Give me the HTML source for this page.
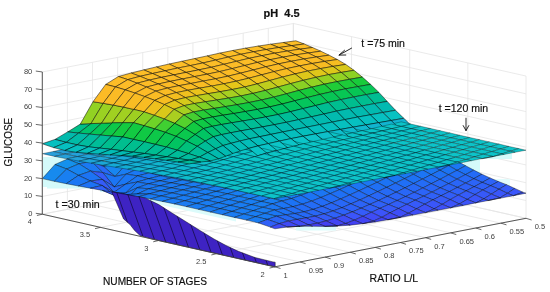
<!DOCTYPE html>
<html><head><meta charset="utf-8"><title>pH 4.5</title><style>html,body{margin:0;padding:0;background:#fff}svg{display:block}.a{stroke-width:.8;stroke-opacity:.62}.b{stroke-width:.7;stroke-opacity:.55}.c{stroke-width:.6;stroke-opacity:.5}</style></head><body>
<svg width="550" height="292" viewBox="0 0 550 292">
<rect width="550" height="292" fill="#fff"/>
<g><line x1="42.30" y1="214.20" x2="42.30" y2="71.96" stroke="#e4e4e4" stroke-width="0.80" /><line x1="42.30" y1="214.20" x2="274.90" y2="266.80" stroke="#e4e4e4" stroke-width="0.80" /><line x1="67.41" y1="209.35" x2="67.41" y2="67.11" stroke="#e4e4e4" stroke-width="0.80" /><line x1="67.41" y1="209.35" x2="300.01" y2="261.95" stroke="#e4e4e4" stroke-width="0.80" /><line x1="92.52" y1="204.50" x2="92.52" y2="62.26" stroke="#e4e4e4" stroke-width="0.80" /><line x1="92.52" y1="204.50" x2="325.12" y2="257.10" stroke="#e4e4e4" stroke-width="0.80" /><line x1="117.63" y1="199.65" x2="117.63" y2="57.41" stroke="#e4e4e4" stroke-width="0.80" /><line x1="117.63" y1="199.65" x2="350.23" y2="252.25" stroke="#e4e4e4" stroke-width="0.80" /><line x1="142.74" y1="194.80" x2="142.74" y2="52.56" stroke="#e4e4e4" stroke-width="0.80" /><line x1="142.74" y1="194.80" x2="375.34" y2="247.40" stroke="#e4e4e4" stroke-width="0.80" /><line x1="167.85" y1="189.95" x2="167.85" y2="47.71" stroke="#e4e4e4" stroke-width="0.80" /><line x1="167.85" y1="189.95" x2="400.45" y2="242.55" stroke="#e4e4e4" stroke-width="0.80" /><line x1="192.96" y1="185.10" x2="192.96" y2="42.86" stroke="#e4e4e4" stroke-width="0.80" /><line x1="192.96" y1="185.10" x2="425.56" y2="237.70" stroke="#e4e4e4" stroke-width="0.80" /><line x1="218.07" y1="180.25" x2="218.07" y2="38.01" stroke="#e4e4e4" stroke-width="0.80" /><line x1="218.07" y1="180.25" x2="450.67" y2="232.85" stroke="#e4e4e4" stroke-width="0.80" /><line x1="243.18" y1="175.40" x2="243.18" y2="33.16" stroke="#e4e4e4" stroke-width="0.80" /><line x1="243.18" y1="175.40" x2="475.78" y2="228.00" stroke="#e4e4e4" stroke-width="0.80" /><line x1="268.29" y1="170.55" x2="268.29" y2="28.31" stroke="#e4e4e4" stroke-width="0.80" /><line x1="268.29" y1="170.55" x2="500.89" y2="223.15" stroke="#e4e4e4" stroke-width="0.80" /><line x1="293.40" y1="165.70" x2="293.40" y2="23.46" stroke="#e4e4e4" stroke-width="0.80" /><line x1="293.40" y1="165.70" x2="526.00" y2="218.30" stroke="#e4e4e4" stroke-width="0.80" /><line x1="293.40" y1="165.70" x2="293.40" y2="23.46" stroke="#e4e4e4" stroke-width="0.80" /><line x1="42.30" y1="214.20" x2="293.40" y2="165.70" stroke="#e4e4e4" stroke-width="0.80" /><line x1="351.55" y1="178.85" x2="351.55" y2="36.61" stroke="#e4e4e4" stroke-width="0.80" /><line x1="100.45" y1="227.35" x2="351.55" y2="178.85" stroke="#e4e4e4" stroke-width="0.80" /><line x1="409.70" y1="192.00" x2="409.70" y2="49.76" stroke="#e4e4e4" stroke-width="0.80" /><line x1="158.60" y1="240.50" x2="409.70" y2="192.00" stroke="#e4e4e4" stroke-width="0.80" /><line x1="467.85" y1="205.15" x2="467.85" y2="62.91" stroke="#e4e4e4" stroke-width="0.80" /><line x1="216.75" y1="253.65" x2="467.85" y2="205.15" stroke="#e4e4e4" stroke-width="0.80" /><line x1="526.00" y1="218.30" x2="526.00" y2="76.06" stroke="#e4e4e4" stroke-width="0.80" /><line x1="274.90" y1="266.80" x2="526.00" y2="218.30" stroke="#e4e4e4" stroke-width="0.80" /><line x1="42.30" y1="214.20" x2="293.40" y2="165.70" stroke="#e4e4e4" stroke-width="0.80" /><line x1="293.40" y1="165.70" x2="526.00" y2="218.30" stroke="#e4e4e4" stroke-width="0.80" /><line x1="42.30" y1="196.42" x2="293.40" y2="147.92" stroke="#e4e4e4" stroke-width="0.80" /><line x1="293.40" y1="147.92" x2="526.00" y2="200.52" stroke="#e4e4e4" stroke-width="0.80" /><line x1="42.30" y1="178.64" x2="293.40" y2="130.14" stroke="#e4e4e4" stroke-width="0.80" /><line x1="293.40" y1="130.14" x2="526.00" y2="182.74" stroke="#e4e4e4" stroke-width="0.80" /><line x1="42.30" y1="160.86" x2="293.40" y2="112.36" stroke="#e4e4e4" stroke-width="0.80" /><line x1="293.40" y1="112.36" x2="526.00" y2="164.96" stroke="#e4e4e4" stroke-width="0.80" /><line x1="42.30" y1="143.08" x2="293.40" y2="94.58" stroke="#e4e4e4" stroke-width="0.80" /><line x1="293.40" y1="94.58" x2="526.00" y2="147.18" stroke="#e4e4e4" stroke-width="0.80" /><line x1="42.30" y1="125.30" x2="293.40" y2="76.80" stroke="#e4e4e4" stroke-width="0.80" /><line x1="293.40" y1="76.80" x2="526.00" y2="129.40" stroke="#e4e4e4" stroke-width="0.80" /><line x1="42.30" y1="107.52" x2="293.40" y2="59.02" stroke="#e4e4e4" stroke-width="0.80" /><line x1="293.40" y1="59.02" x2="526.00" y2="111.62" stroke="#e4e4e4" stroke-width="0.80" /><line x1="42.30" y1="89.74" x2="293.40" y2="41.24" stroke="#e4e4e4" stroke-width="0.80" /><line x1="293.40" y1="41.24" x2="526.00" y2="93.84" stroke="#e4e4e4" stroke-width="0.80" /><line x1="42.30" y1="71.96" x2="293.40" y2="23.46" stroke="#e4e4e4" stroke-width="0.80" /><line x1="293.40" y1="23.46" x2="526.00" y2="76.06" stroke="#e4e4e4" stroke-width="0.80" /></g>
<g fill="#d4fafa"><rect x="43" y="157" width="22" height="30"/><rect x="47" y="176" width="56" height="12.5"/><rect x="100" y="186" width="12" height="6"/><polygon points="140,196 236,218 236,221.6 140,200.2" fill="#dcfbfb"/><rect x="464" y="160" width="16" height="19"/><rect x="478" y="152" width="34" height="7"/><rect x="296" y="222" width="40" height="8.5" fill="#dcfbfb"/><rect x="480" y="179" width="30" height="8" fill="#e2fbfb"/></g>
<g stroke="#000" stroke-opacity="0.55" stroke-width="0.7" stroke-linejoin="round">
<polygon class="b" points="280.8,113.3 289.2,116.4 301.6,113.6 293.4,110.6" fill="#2396e5"/>
<polygon class="b" points="289.2,116.4 297.6,121.2 309.8,118.3 301.6,113.6" fill="#1996e9"/>
<polygon class="b" points="268.3,116.0 276.9,119.1 289.2,116.4 280.8,113.3" fill="#2296e5"/>
<polygon class="b" points="297.6,121.2 306.0,126.5 318.0,123.4 309.8,118.3" fill="#1590ed"/>
<polygon class="c" points="282.5,99.7 292.4,101.9 303.2,99.8 293.4,97.6" fill="#0dc3c9"/>
<polygon class="b" points="306.0,126.5 314.4,131.1 326.2,128.0 318.0,123.4" fill="#1789ef"/>
<polygon class="b" points="276.9,119.1 285.5,124.1 297.6,121.2 289.2,116.4" fill="#1796ea"/>
<polygon class="b" points="255.7,118.7 264.5,121.9 276.9,119.1 268.3,116.0" fill="#2196e6"/>
<polygon class="b" points="285.5,124.1 294.0,129.5 306.0,126.5 297.6,121.2" fill="#168fed"/>
<polygon class="b" points="314.4,131.1 322.8,134.5 334.4,131.5 326.2,128.0" fill="#1884f0"/>
<polygon class="c" points="271.6,101.8 281.6,104.1 292.4,101.9 282.5,99.7" fill="#0dc3c9"/>
<polygon class="c" points="292.4,101.9 302.3,104.2 313.0,102.0 303.2,99.8" fill="#0dc3c9"/>
<polygon class="b" points="294.0,129.5 302.6,134.1 314.4,131.1 306.0,126.5" fill="#1788ef"/>
<polygon class="b" points="264.5,121.9 273.3,127.1 285.5,124.1 276.9,119.1" fill="#1696ea"/>
<polygon class="b" points="322.8,134.5 331.2,137.0 342.6,134.0 334.4,131.5" fill="#1882f1"/>
<polygon class="b" points="243.2,121.3 252.1,124.7 264.5,121.9 255.7,118.7" fill="#2096e6"/>
<polygon class="b" points="273.3,127.1 282.0,132.5 294.0,129.5 285.5,124.1" fill="#168eed"/>
<polygon class="b" points="302.6,134.1 311.2,137.5 322.8,134.5 314.4,131.1" fill="#1883f0"/>
<polygon class="c" points="260.6,103.9 270.8,106.2 281.6,104.1 271.6,101.8" fill="#0dc3c9"/>
<polygon class="c" points="281.6,104.1 291.6,106.3 302.3,104.2 292.4,101.9" fill="#0dc3c9"/>
<polygon class="c" points="302.3,104.2 312.2,106.4 322.8,104.2 313.0,102.0" fill="#0dc3c9"/>
<polygon class="b" points="331.2,137.0 339.6,138.8 350.8,135.9 342.6,134.0" fill="#1882f1"/>
<polygon class="b" points="282.0,132.5 290.8,137.2 302.6,134.1 294.0,129.5" fill="#1886ef"/>
<polygon class="b" points="252.1,124.7 261.1,130.0 273.3,127.1 264.5,121.9" fill="#1496eb"/>
<polygon class="b" points="311.2,137.5 319.8,139.9 331.2,137.0 322.8,134.5" fill="#1982f1"/>
<polygon class="b" points="230.6,124.0 239.8,127.5 252.1,124.7 243.2,121.3" fill="#1f96e7"/>
<polygon class="b" points="261.1,130.0 270.1,135.6 282.0,132.5 273.3,127.1" fill="#168cee"/>
<polygon class="c" points="249.7,106.1 259.9,108.4 270.8,106.2 260.6,103.9" fill="#0dc3c9"/>
<polygon class="b" points="290.8,137.2 299.6,140.5 311.2,137.5 302.6,134.1" fill="#1982f1"/>
<polygon class="c" points="270.8,106.2 280.9,108.5 291.6,106.3 281.6,104.1" fill="#0dc3c9"/>
<polygon class="c" points="291.6,106.3 301.6,108.6 312.2,106.4 302.3,104.2" fill="#0dc3c9"/>
<polygon class="c" points="312.2,106.4 322.1,108.6 332.6,106.4 322.8,104.2" fill="#0dc3c9"/>
<polygon class="b" points="339.6,138.8 348.0,140.5 359.0,137.5 350.8,135.9" fill="#1883f0"/>
<polygon class="b" points="319.8,139.9 328.4,141.8 339.6,138.8 331.2,137.0" fill="#1982f1"/>
<polygon class="b" points="270.1,135.6 279.0,140.2 290.8,137.2 282.0,132.5" fill="#1885f0"/>
<polygon class="b" points="239.8,127.5 248.9,132.9 261.1,130.0 252.1,124.7" fill="#1495eb"/>
<polygon class="b" points="299.6,140.5 308.4,142.9 319.8,139.9 311.2,137.5" fill="#1981f1"/>
<polygon class="b" points="218.1,126.7 227.4,130.3 239.8,127.5 230.6,124.0" fill="#1d96e7"/>
<polygon class="c" points="238.8,108.2 249.1,110.5 259.9,108.4 249.7,106.1" fill="#0dc3c9"/>
<polygon class="b" points="348.0,140.5 356.4,142.0 367.2,139.0 359.0,137.5" fill="#1884f0"/>
<polygon class="b" points="248.9,132.9 258.1,138.6 270.1,135.6 261.1,130.0" fill="#168bee"/>
<polygon class="c" points="259.9,108.4 270.2,110.6 280.9,108.5 270.8,106.2" fill="#0dc3c9"/>
<polygon class="c" points="280.9,108.5 291.0,110.7 301.6,108.6 291.6,106.3" fill="#0dc3c9"/>
<polygon class="c" points="301.6,108.6 311.6,110.8 322.1,108.6 312.2,106.4" fill="#0dc3c9"/>
<polygon class="c" points="322.1,108.6 332.0,110.8 342.4,108.6 332.6,106.4" fill="#0dc3c9"/>
<polygon class="b" points="279.0,140.2 288.0,143.5 299.6,140.5 290.8,137.2" fill="#1981f1"/>
<polygon class="b" points="328.4,141.8 336.9,143.4 348.0,140.5 339.6,138.8" fill="#1883f1"/>
<polygon class="b" points="227.4,130.3 236.8,135.9 248.9,132.9 239.8,127.5" fill="#1494ec"/>
<polygon class="b" points="258.1,138.6 267.2,143.2 279.0,140.2 270.1,135.6" fill="#1884f0"/>
<polygon class="b" points="308.4,142.9 317.1,144.8 328.4,141.8 319.8,139.9" fill="#1981f1"/>
<polygon class="b" points="356.4,142.0 364.7,143.5 375.4,140.4 367.2,139.0" fill="#1885f0"/>
<polygon class="c" points="227.9,110.3 238.3,112.7 249.1,110.5 238.8,108.2" fill="#0dc3c9"/>
<polygon class="b" points="288.0,143.5 296.9,145.9 308.4,142.9 299.6,140.5" fill="#1980f1"/>
<polygon class="b" points="205.5,129.4 215.0,133.1 227.4,130.3 218.1,126.7" fill="#1c96e8"/>
<polygon class="c" points="249.1,110.5 259.5,112.8 270.2,110.6 259.9,108.4" fill="#0dc3c9"/>
<polygon class="c" points="270.2,110.6 280.4,112.9 291.0,110.7 280.9,108.5" fill="#0dc3c9"/>
<polygon class="c" points="291.0,110.7 301.1,113.0 311.6,110.8 301.6,108.6" fill="#0cc3c9"/>
<polygon class="b" points="236.8,135.9 246.1,141.6 258.1,138.6 248.9,132.9" fill="#178aee"/>
<polygon class="c" points="311.6,110.8 321.6,113.0 332.0,110.8 322.1,108.6" fill="#0cc3c9"/>
<polygon class="c" points="332.0,110.8 341.9,113.0 352.2,110.8 342.4,108.6" fill="#0cc3c9"/>
<polygon class="b" points="336.9,143.4 345.5,145.0 356.4,142.0 348.0,140.5" fill="#1884f0"/>
<polygon class="b" points="267.2,143.2 276.4,146.5 288.0,143.5 279.0,140.2" fill="#1980f1"/>
<polygon class="b" points="317.1,144.8 325.9,146.4 336.9,143.4 328.4,141.8" fill="#1982f1"/>
<polygon class="b" points="215.0,133.1 224.6,138.8 236.8,135.9 227.4,130.3" fill="#1593ec"/>
<polygon class="b" points="246.1,141.6 255.4,146.2 267.2,143.2 258.1,138.6" fill="#1883f1"/>
<polygon class="b" points="364.7,143.5 373.1,145.0 383.6,141.9 375.4,140.4" fill="#1886ef"/>
<polygon class="b" points="296.9,145.9 305.9,147.7 317.1,144.8 308.4,142.9" fill="#1980f1"/>
<polygon class="c" points="217.0,112.5 227.5,114.8 238.3,112.7 227.9,110.3" fill="#0dc3c9"/>
<polygon class="c" points="238.3,112.7 248.7,115.0 259.5,112.8 249.1,110.5" fill="#0dc3c9"/>
<polygon class="c" points="259.5,112.8 269.8,115.1 280.4,112.9 270.2,110.6" fill="#0dc3c9"/>
<polygon class="b" points="193.0,132.1 202.7,135.9 215.0,133.1 205.5,129.4" fill="#1b96e8"/>
<polygon class="c" points="280.4,112.9 290.6,115.1 301.1,113.0 291.0,110.7" fill="#0cc4c9"/>
<polygon class="b" points="276.4,146.5 285.5,148.8 296.9,145.9 288.0,143.5" fill="#197ff1"/>
<polygon class="c" points="301.1,113.0 311.2,115.2 321.6,113.0 311.6,110.8" fill="#0cc4c9"/>
<polygon class="c" points="341.9,113.0 351.8,115.2 362.0,113.0 352.2,110.8" fill="#0cc4c9"/>
<polygon class="c" points="321.6,113.0 331.6,115.2 341.9,113.0 332.0,110.8" fill="#0cc4c9"/>
<polygon class="b" points="345.5,145.0 354.1,146.5 364.7,143.5 356.4,142.0" fill="#1885f0"/>
<polygon class="b" points="224.6,138.8 234.1,144.6 246.1,141.6 236.8,135.9" fill="#1788ef"/>
<polygon class="a" points="283.2,42.5 291.5,45.7 304.2,44.0 295.9,40.8" fill="#fdbe27"/>
<polygon class="b" points="255.4,146.2 264.8,149.4 276.4,146.5 267.2,143.2" fill="#197ff2"/>
<polygon class="b" points="325.9,146.4 334.7,148.0 345.5,145.0 336.9,143.4" fill="#1883f0"/>
<polygon class="b" points="373.1,145.0 381.5,146.5 391.8,143.4 383.6,141.9" fill="#1787ef"/>
<polygon class="b" points="202.7,135.9 212.4,141.7 224.6,138.8 215.0,133.1" fill="#1592ec"/>
<polygon class="b" points="305.9,147.7 314.9,149.4 325.9,146.4 317.1,144.8" fill="#1981f1"/>
<polygon class="c" points="206.1,114.7 216.7,117.0 227.5,114.8 217.0,112.5" fill="#0dc2c9"/>
<polygon class="b" points="234.1,144.6 243.6,149.2 255.4,146.2 246.1,141.6" fill="#1981f1"/>
<polygon class="c" points="227.5,114.8 238.0,117.2 248.7,115.0 238.3,112.7" fill="#0dc3c9"/>
<polygon class="a" points="291.5,45.7 299.8,49.2 312.5,47.5 304.2,44.0" fill="#fcbd27"/>
<polygon class="c" points="248.7,115.0 259.2,117.2 269.8,115.1 259.5,112.8" fill="#0cc4c9"/>
<polygon class="b" points="285.5,148.8 294.7,150.6 305.9,147.7 296.9,145.9" fill="#1980f1"/>
<polygon class="b" points="354.1,146.5 362.7,148.0 373.1,145.0 364.7,143.5" fill="#1886f0"/>
<polygon class="c" points="269.8,115.1 280.1,117.3 290.6,115.1 280.4,112.9" fill="#0cc4c9"/>
<polygon class="b" points="180.4,134.8 190.3,138.7 202.7,135.9 193.0,132.1" fill="#1a96e9"/>
<polygon class="c" points="290.6,115.1 300.8,117.3 311.2,115.2 301.1,113.0" fill="#0cc4c8"/>
<polygon class="c" points="351.8,115.2 361.7,117.4 371.8,115.2 362.0,113.0" fill="#0cc4c9"/>
<polygon class="c" points="311.2,115.2 321.3,117.4 331.6,115.2 321.6,113.0" fill="#0cc4c8"/>
<polygon class="c" points="331.6,115.2 341.6,117.4 351.8,115.2 341.9,113.0" fill="#0cc4c8"/>
<polygon class="b" points="264.8,149.4 274.1,151.7 285.5,148.8 276.4,146.5" fill="#197ff2"/>
<polygon class="b" points="212.4,141.7 222.1,147.6 234.1,144.6 224.6,138.8" fill="#1787ef"/>
<polygon class="b" points="334.7,148.0 343.4,149.5 354.1,146.5 345.5,145.0" fill="#1884f0"/>
<polygon class="a" points="270.5,44.2 278.9,47.5 291.5,45.7 283.2,42.5" fill="#fdbe27"/>
<polygon class="b" points="381.5,146.5 389.9,148.1 400.0,144.9 391.8,143.4" fill="#1788ef"/>
<polygon class="b" points="243.6,149.2 253.2,152.4 264.8,149.4 255.4,146.2" fill="#197ef2"/>
<polygon class="a" points="299.8,49.2 308.1,53.0 320.8,51.2 312.5,47.5" fill="#fcbc26"/>
<polygon class="b" points="314.9,149.4 323.8,151.0 334.7,148.0 325.9,146.4" fill="#1883f1"/>
<polygon class="c" points="195.1,116.9 205.9,119.3 216.7,117.0 206.1,114.7" fill="#0dc2c9"/>
<polygon class="b" points="190.3,138.7 200.2,144.7 212.4,141.7 202.7,135.9" fill="#1590ed"/>
<polygon class="c" points="216.7,117.0 227.3,119.4 238.0,117.2 227.5,114.8" fill="#0dc3c9"/>
<polygon class="b" points="222.1,147.6 231.8,152.2 243.6,149.2 234.1,144.6" fill="#1980f1"/>
<polygon class="b" points="362.7,148.0 371.2,149.6 381.5,146.5 373.1,145.0" fill="#1787ef"/>
<polygon class="b" points="294.7,150.6 303.8,152.3 314.9,149.4 305.9,147.7" fill="#1981f1"/>
<polygon class="c" points="238.0,117.2 248.6,119.4 259.2,117.2 248.7,115.0" fill="#0cc4c9"/>
<polygon class="c" points="259.2,117.2 269.6,119.4 280.1,117.3 269.8,115.1" fill="#0cc4c8"/>
<polygon class="a" points="278.9,47.5 287.2,51.1 299.8,49.2 291.5,45.7" fill="#fcbd27"/>
<polygon class="c" points="361.7,117.4 371.6,119.6 381.6,117.4 371.8,115.2" fill="#0cc4c9"/>
<polygon class="c" points="280.1,117.3 290.4,119.4 300.8,117.3 290.6,115.1" fill="#0cc5c8"/>
<polygon class="c" points="341.6,117.4 351.6,119.6 361.7,117.4 351.8,115.2" fill="#0cc4c8"/>
<polygon class="b" points="167.9,137.5 178.0,141.5 190.3,138.7 180.4,134.8" fill="#1996e9"/>
<polygon class="c" points="300.8,117.3 311.0,119.5 321.3,117.4 311.2,115.2" fill="#0cc5c8"/>
<polygon class="c" points="321.3,117.4 331.4,119.5 341.6,117.4 331.6,115.2" fill="#0cc5c8"/>
<polygon class="a" points="308.1,53.0 316.4,57.0 329.1,55.2 320.8,51.2" fill="#fcbb26"/>
<polygon class="b" points="274.1,151.7 283.5,153.6 294.7,150.6 285.5,148.8" fill="#197ff2"/>
<polygon class="b" points="343.4,149.5 352.2,151.1 362.7,148.0 354.1,146.5" fill="#1885f0"/>
<polygon class="b" points="200.2,144.7 210.1,150.6 222.1,147.6 212.4,141.7" fill="#1886f0"/>
<polygon class="b" points="389.9,148.1 398.3,149.7 408.2,146.5 400.0,144.9" fill="#1789ef"/>
<polygon class="b" points="253.2,152.4 262.7,154.7 274.1,151.7 264.8,149.4" fill="#1a7ef2"/>
<polygon class="a" points="257.9,46.1 266.2,49.5 278.9,47.5 270.5,44.2" fill="#fdbe27"/>
<polygon class="b" points="323.8,151.0 332.8,152.6 343.4,149.5 334.7,148.0" fill="#1884f0"/>
<polygon class="c" points="184.2,119.2 195.1,121.6 205.9,119.3 195.1,116.9" fill="#0dc1ca"/>
<polygon class="b" points="231.8,152.2 241.6,155.4 253.2,152.4 243.6,149.2" fill="#1a7df2"/>
<polygon class="a" points="287.2,51.1 295.5,54.9 308.1,53.0 299.8,49.2" fill="#fcbc27"/>
<polygon class="a" points="316.4,57.0 324.7,61.4 337.4,59.5 329.1,55.2" fill="#fabb24"/>
<polygon class="c" points="205.9,119.3 216.6,121.6 227.3,119.4 216.7,117.0" fill="#0dc2c9"/>
<polygon class="b" points="371.2,149.6 379.8,151.3 389.9,148.1 381.5,146.5" fill="#1788ef"/>
<polygon class="b" points="178.0,141.5 188.1,147.6 200.2,144.7 190.3,138.7" fill="#168fed"/>
<polygon class="b" points="303.8,152.3 313.0,154.0 323.8,151.0 314.9,149.4" fill="#1982f1"/>
<polygon class="c" points="227.3,119.4 238.0,121.6 248.6,119.4 238.0,117.2" fill="#0cc4c9"/>
<polygon class="b" points="210.1,150.6 220.0,155.2 231.8,152.2 222.1,147.6" fill="#197ff2"/>
<polygon class="c" points="248.6,119.4 259.1,121.6 269.6,119.4 259.2,117.2" fill="#0cc4c8"/>
<polygon class="c" points="371.6,119.6 381.5,121.8 391.4,119.6 381.6,117.4" fill="#0cc4c9"/>
<polygon class="c" points="269.6,119.4 280.0,121.6 290.4,119.4 280.1,117.3" fill="#0cc5c8"/>
<polygon class="c" points="351.6,119.6 361.6,121.8 371.6,119.6 361.7,117.4" fill="#0cc4c8"/>
<polygon class="b" points="283.5,153.6 292.8,155.3 303.8,152.3 294.7,150.6" fill="#1980f1"/>
<polygon class="c" points="290.4,119.4 300.7,121.6 311.0,119.5 300.8,117.3" fill="#0cc5c8"/>
<polygon class="c" points="331.4,119.5 341.6,121.7 351.6,119.6 341.6,117.4" fill="#0cc5c8"/>
<polygon class="c" points="311.0,119.5 321.3,121.6 331.4,119.5 321.3,117.4" fill="#0cc5c8"/>
<polygon class="b" points="155.3,140.2 165.6,144.3 178.0,141.5 167.9,137.5" fill="#1896ea"/>
<polygon class="b" points="352.2,151.1 361.0,152.8 371.2,149.6 362.7,148.0" fill="#1886ef"/>
<polygon class="b" points="398.3,149.7 406.7,151.5 416.4,148.2 408.2,146.5" fill="#1789ef"/>
<polygon class="a" points="266.2,49.5 274.5,53.2 287.2,51.1 278.9,47.5" fill="#fdbe27"/>
<polygon class="a" points="324.7,61.4 333.0,66.4 345.7,64.4 337.4,59.5" fill="#f6bd21"/>
<polygon class="a" points="295.5,54.9 303.8,59.0 316.4,57.0 308.1,53.0" fill="#fcbb26"/>
<polygon class="b" points="262.7,154.7 272.2,156.5 283.5,153.6 274.1,151.7" fill="#197ff2"/>
<polygon class="b" points="188.1,147.6 198.2,153.6 210.1,150.6 200.2,144.7" fill="#1885f0"/>
<polygon class="b" points="332.8,152.6 341.7,154.2 352.2,151.1 343.4,149.5" fill="#1885f0"/>
<polygon class="c" points="173.3,121.6 184.3,124.0 195.1,121.6 184.2,119.2" fill="#0ec0ca"/>
<polygon class="b" points="241.6,155.4 251.3,157.6 262.7,154.7 253.2,152.4" fill="#1a7df2"/>
<polygon class="b" points="379.8,151.3 388.4,153.0 398.3,149.7 389.9,148.1" fill="#1788ef"/>
<polygon class="a" points="333.0,66.4 341.3,72.4 354.0,70.3 345.7,64.4" fill="#d8c81a"/>
<polygon class="c" points="195.1,121.6 205.9,124.0 216.6,121.6 205.9,119.3" fill="#0dc2c9"/>
<polygon class="a" points="245.2,48.2 253.5,51.8 266.2,49.5 257.9,46.1" fill="#fdbf27"/>
<polygon class="b" points="220.0,155.2 230.0,158.3 241.6,155.4 231.8,152.2" fill="#1a7df2"/>
<polygon class="b" points="313.0,154.0 322.1,155.6 332.8,152.6 323.8,151.0" fill="#1883f0"/>
<polygon class="a" points="274.5,53.2 282.8,57.2 295.5,54.9 287.2,51.1" fill="#fcbd27"/>
<polygon class="c" points="216.6,121.6 227.4,123.9 238.0,121.6 227.3,119.4" fill="#0dc3c9"/>
<polygon class="a" points="303.8,59.0 312.1,63.5 324.7,61.4 316.4,57.0" fill="#fbbb25"/>
<polygon class="b" points="165.6,144.3 175.9,150.5 188.1,147.6 178.0,141.5" fill="#168eed"/>
<polygon class="c" points="238.0,121.6 248.6,123.8 259.1,121.6 248.6,119.4" fill="#0cc5c8"/>
<polygon class="a" points="341.3,72.4 349.6,79.3 362.3,77.1 354.0,70.3" fill="#8dd223"/>
<polygon class="c" points="381.5,121.8 391.4,124.1 401.2,121.8 391.4,119.6" fill="#0cc4c9"/>
<polygon class="b" points="198.2,153.6 208.2,158.2 220.0,155.2 210.1,150.6" fill="#197ef2"/>
<polygon class="b" points="406.7,151.5 415.1,153.3 424.6,149.9 416.4,148.2" fill="#178aee"/>
<polygon class="c" points="259.1,121.6 269.6,123.7 280.0,121.6 269.6,119.4" fill="#0cc5c8"/>
<polygon class="b" points="361.0,152.8 369.7,154.4 379.8,151.3 371.2,149.6" fill="#1787ef"/>
<polygon class="b" points="292.8,155.3 302.1,157.0 313.0,154.0 303.8,152.3" fill="#1981f1"/>
<polygon class="c" points="361.6,121.8 371.7,124.1 381.5,121.8 371.6,119.6" fill="#0cc4c8"/>
<polygon class="c" points="280.0,121.6 290.5,123.7 300.7,121.6 290.4,119.4" fill="#0cc5c8"/>
<polygon class="c" points="341.6,121.7 351.7,123.9 361.6,121.8 351.6,119.6" fill="#0cc5c8"/>
<polygon class="c" points="300.7,121.6 311.1,123.7 321.3,121.6 311.0,119.5" fill="#0cc5c7"/>
<polygon class="c" points="321.3,121.6 331.5,123.8 341.6,121.7 331.4,119.5" fill="#0cc5c8"/>
<polygon class="b" points="142.7,142.9 153.2,147.0 165.6,144.3 155.3,140.2" fill="#1696ea"/>
<polygon class="a" points="349.6,79.3 357.9,86.6 370.6,84.4 362.3,77.1" fill="#18cb3a"/>
<polygon class="b" points="272.2,156.5 281.8,158.2 292.8,155.3 283.5,153.6" fill="#1980f1"/>
<polygon class="a" points="253.5,51.8 261.8,55.7 274.5,53.2 266.2,49.5" fill="#fdbe27"/>
<polygon class="a" points="312.1,63.5 320.4,68.6 333.0,66.4 324.7,61.4" fill="#f8bc22"/>
<polygon class="a" points="357.9,86.6 366.2,94.6 378.9,92.4 370.6,84.4" fill="#06c657"/>
<polygon class="a" points="282.8,57.2 291.1,61.3 303.8,59.0 295.5,54.9" fill="#fcbc26"/>
<polygon class="c" points="162.4,124.1 173.4,126.5 184.3,124.0 173.3,121.6" fill="#0ebfcb"/>
<polygon class="b" points="341.7,154.2 350.7,155.9 361.0,152.8 352.2,151.1" fill="#1886f0"/>
<polygon class="b" points="175.9,150.5 186.2,156.6 198.2,153.6 188.1,147.6" fill="#1883f0"/>
<polygon class="a" points="366.2,94.6 374.5,103.6 387.2,101.4 378.9,92.4" fill="#00bd93"/>
<polygon class="b" points="251.3,157.6 261.0,159.5 272.2,156.5 262.7,154.7" fill="#197ef2"/>
<polygon class="b" points="388.4,153.0 397.0,154.8 406.7,151.5 398.3,149.7" fill="#1789ef"/>
<polygon class="a" points="374.5,103.6 382.8,112.5 395.5,110.3 387.2,101.4" fill="#02bab1"/>
<polygon class="c" points="184.3,124.0 195.2,126.4 205.9,124.0 195.1,121.6" fill="#0dc1ca"/>
<polygon class="a" points="382.8,112.5 391.1,120.5 403.8,118.3 395.5,110.3" fill="#07c1c1"/>
<polygon class="b" points="230.0,158.3 239.9,160.5 251.3,157.6 241.6,155.4" fill="#1a7cf2"/>
<polygon class="a" points="391.1,120.5 399.4,128.6 412.1,126.3 403.8,118.3" fill="#12b3d1"/>
<polygon class="b" points="322.1,155.6 331.3,157.3 341.7,154.2 332.8,152.6" fill="#1884f0"/>
<polygon class="c" points="205.9,124.0 216.8,126.2 227.4,123.9 216.6,121.6" fill="#0dc3c9"/>
<polygon class="a" points="320.4,68.6 328.7,74.6 341.3,72.4 333.0,66.4" fill="#ddc71a"/>
<polygon class="a" points="232.5,50.5 240.8,54.3 253.5,51.8 245.2,48.2" fill="#fdbf27"/>
<polygon class="b" points="208.2,158.2 218.3,161.2 230.0,158.3 220.0,155.2" fill="#1a7cf3"/>
<polygon class="b" points="415.1,153.3 423.5,155.1 432.8,151.7 424.6,149.9" fill="#178aee"/>
<polygon class="a" points="399.4,128.6 407.7,136.6 420.4,134.3 412.1,126.3" fill="#3298dd"/>
<polygon class="a" points="261.8,55.7 270.1,59.7 282.8,57.2 274.5,53.2" fill="#fcbd27"/>
<polygon class="c" points="227.4,123.9 238.1,126.0 248.6,123.8 238.0,121.6" fill="#0cc5c8"/>
<polygon class="b" points="153.2,147.0 163.7,153.5 175.9,150.5 165.6,144.3" fill="#168dee"/>
<polygon class="a" points="291.1,61.3 299.4,65.9 312.1,63.5 303.8,59.0" fill="#fbbb25"/>
<polygon class="b" points="369.7,154.4 378.5,156.2 388.4,153.0 379.8,151.3" fill="#1788ef"/>
<polygon class="c" points="391.4,124.1 401.3,126.4 411.0,124.1 401.2,121.8" fill="#0cc4c9"/>
<polygon class="c" points="248.6,123.8 259.2,125.9 269.6,123.7 259.1,121.6" fill="#0cc5c8"/>
<polygon class="b" points="302.1,157.0 311.5,158.6 322.1,155.6 313.0,154.0" fill="#1883f1"/>
<polygon class="a" points="328.7,74.6 337.0,81.6 349.6,79.3 341.3,72.4" fill="#93d223"/>
<polygon class="c" points="371.7,124.1 381.7,126.3 391.4,124.1 381.5,121.8" fill="#0cc4c8"/>
<polygon class="c" points="269.6,123.7 280.2,125.7 290.5,123.7 280.0,121.6" fill="#0bc4c7"/>
<polygon class="b" points="186.2,156.6 196.5,161.1 208.2,158.2 198.2,153.6" fill="#1a7df2"/>
<polygon class="c" points="351.7,123.9 361.8,126.2 371.7,124.1 361.6,121.8" fill="#0cc5c8"/>
<polygon class="c" points="290.5,123.7 300.9,125.7 311.1,123.7 300.7,121.6" fill="#0bc4c7"/>
<polygon class="c" points="331.5,123.8 341.7,126.0 351.7,123.9 341.6,121.7" fill="#0cc5c8"/>
<polygon class="c" points="311.1,123.7 321.4,125.9 331.5,123.8 321.3,121.6" fill="#0bc4c7"/>
<polygon class="b" points="130.2,145.6 140.9,149.8 153.2,147.0 142.7,142.9" fill="#1596eb"/>
<polygon class="b" points="281.8,158.2 291.3,160.0 302.1,157.0 292.8,155.3" fill="#1981f1"/>
<polygon class="c" points="151.5,126.6 162.6,129.1 173.4,126.5 162.4,124.1" fill="#0fbdcc"/>
<polygon class="a" points="337.0,81.6 345.3,88.9 357.9,86.6 349.6,79.3" fill="#1dcb39"/>
<polygon class="b" points="350.7,155.9 359.7,157.6 369.7,154.4 361.0,152.8" fill="#1887ef"/>
<polygon class="b" points="397.0,154.8 405.6,156.6 415.1,153.3 406.7,151.5" fill="#1789ef"/>
<polygon class="a" points="240.8,54.3 249.1,58.3 261.8,55.7 253.5,51.8" fill="#fdbe27"/>
<polygon class="a" points="299.4,65.9 307.7,71.1 320.4,68.6 312.1,63.5" fill="#f8bc22"/>
<polygon class="a" points="270.1,59.7 278.4,63.9 291.1,61.3 282.8,57.2" fill="#fcbc26"/>
<polygon class="b" points="261.0,159.5 270.7,161.2 281.8,158.2 272.2,156.5" fill="#197ff2"/>
<polygon class="a" points="345.3,88.9 353.6,97.0 366.2,94.6 357.9,86.6" fill="#07c655"/>
<polygon class="b" points="163.7,153.5 174.2,159.6 186.2,156.6 175.9,150.5" fill="#1982f1"/>
<polygon class="c" points="173.4,126.5 184.5,128.8 195.2,126.4 184.3,124.0" fill="#0ec0cb"/>
<polygon class="a" points="353.6,97.0 361.9,106.0 374.5,103.6 366.2,94.6" fill="#00be90"/>
<polygon class="a" points="361.9,106.0 370.2,114.8 382.8,112.5 374.5,103.6" fill="#02bab0"/>
<polygon class="b" points="239.9,160.5 249.8,162.4 261.0,159.5 251.3,157.6" fill="#1a7df2"/>
<polygon class="b" points="423.5,155.1 431.9,157.0 441.0,153.6 432.8,151.7" fill="#178aee"/>
<polygon class="b" points="331.3,157.3 340.4,159.0 350.7,155.9 341.7,154.2" fill="#1885f0"/>
<polygon class="c" points="195.2,126.4 206.2,128.6 216.8,126.2 205.9,124.0" fill="#0dc2c9"/>
<polygon class="a" points="370.2,114.8 378.5,122.7 391.1,120.5 382.8,112.5" fill="#07c1c1"/>
<polygon class="b" points="218.3,161.2 228.4,163.4 239.9,160.5 230.0,158.3" fill="#1a7cf3"/>
<polygon class="b" points="378.5,156.2 387.3,158.1 397.0,154.8 388.4,153.0" fill="#1788ef"/>
<polygon class="a" points="219.8,53.1 228.1,57.1 240.8,54.3 232.5,50.5" fill="#fdbf27"/>
<polygon class="a" points="307.7,71.1 316.0,77.3 328.7,74.6 320.4,68.6" fill="#dfc71a"/>
<polygon class="a" points="378.5,122.7 386.8,130.7 399.4,128.6 391.1,120.5" fill="#12b4d0"/>
<polygon class="c" points="216.8,126.2 227.6,128.3 238.1,126.0 227.4,123.9" fill="#0cc5c8"/>
<polygon class="b" points="140.9,149.8 151.5,156.4 163.7,153.5 153.2,147.0" fill="#168cee"/>
<polygon class="a" points="249.1,58.3 257.4,62.4 270.1,59.7 261.8,55.7" fill="#fcbd27"/>
<polygon class="b" points="196.5,161.1 206.7,164.2 218.3,161.2 208.2,158.2" fill="#1a7bf3"/>
<polygon class="c" points="401.3,126.4 411.2,128.7 420.8,126.3 411.0,124.1" fill="#0cc4c9"/>
<polygon class="b" points="311.5,158.6 320.8,160.4 331.3,157.3 322.1,155.6" fill="#1884f0"/>
<polygon class="a" points="386.8,130.7 395.1,138.6 407.7,136.6 399.4,128.6" fill="#3098dd"/>
<polygon class="c" points="238.1,126.0 248.8,128.1 259.2,125.9 248.6,123.8" fill="#0cc5c7"/>
<polygon class="a" points="278.4,63.9 286.7,68.6 299.4,65.9 291.1,61.3" fill="#fbbb25"/>
<polygon class="c" points="381.7,126.3 391.7,128.7 401.3,126.4 391.4,124.1" fill="#0cc4c8"/>
<polygon class="c" points="259.2,125.9 269.9,127.9 280.2,125.7 269.6,123.7" fill="#0bc4c7"/>
<polygon class="c" points="361.8,126.2 371.9,128.6 381.7,126.3 371.7,124.1" fill="#0cc5c8"/>
<polygon class="a" points="316.0,77.3 324.3,84.2 337.0,81.6 328.7,74.6" fill="#95d122"/>
<polygon class="c" points="140.6,129.3 151.8,131.8 162.6,129.1 151.5,126.6" fill="#0fbacd"/>
<polygon class="c" points="280.2,125.7 290.7,127.8 300.9,125.7 290.5,123.7" fill="#0bc4c7"/>
<polygon class="c" points="341.7,126.0 351.9,128.3 361.8,126.2 351.7,123.9" fill="#0cc5c8"/>
<polygon class="b" points="117.6,151.7 128.5,152.8 140.9,149.8 130.2,145.6" fill="#1496eb"/>
<polygon class="b" points="174.2,159.6 184.7,164.1 196.5,161.1 186.2,156.6" fill="#1a7cf2"/>
<polygon class="b" points="405.6,156.6 414.1,158.6 423.5,155.1 415.1,153.3" fill="#1789ef"/>
<polygon class="c" points="321.4,125.9 331.7,128.1 341.7,126.0 331.5,123.8" fill="#0bc4c7"/>
<polygon class="c" points="300.9,125.7 311.3,127.9 321.4,125.9 311.1,123.7" fill="#0bc4c7"/>
<polygon class="b" points="359.7,157.6 368.6,159.4 378.5,156.2 369.7,154.4" fill="#1787ef"/>
<polygon class="b" points="291.3,160.0 300.8,161.7 311.5,158.6 302.1,157.0" fill="#1982f1"/>
<polygon class="a" points="324.3,84.2 332.6,91.5 345.3,88.9 337.0,81.6" fill="#20cc38"/>
<polygon class="c" points="162.6,129.1 173.8,131.4 184.5,128.8 173.4,126.5" fill="#0ebecb"/>
<polygon class="a" points="228.1,57.1 236.5,61.3 249.1,58.3 240.8,54.3" fill="#fdbe27"/>
<polygon class="b" points="431.9,157.0 440.3,160.7 449.2,156.0 441.0,153.6" fill="#1788ef"/>
<polygon class="b" points="270.7,161.2 280.4,162.9 291.3,160.0 281.8,158.2" fill="#1980f1"/>
<polygon class="a" points="286.7,68.6 295.0,73.9 307.7,71.1 299.4,65.9" fill="#f8bc22"/>
<polygon class="a" points="257.4,62.4 265.7,66.8 278.4,63.9 270.1,59.7" fill="#fcbc26"/>
<polygon class="a" points="332.6,91.5 340.9,99.6 353.6,97.0 345.3,88.9" fill="#07c754"/>
<polygon class="b" points="151.5,156.4 162.2,162.6 174.2,159.6 163.7,153.5" fill="#1981f1"/>
<polygon class="c" points="184.5,128.8 195.5,131.1 206.2,128.6 195.2,126.4" fill="#0dc1ca"/>
<polygon class="b" points="340.4,159.0 349.6,160.8 359.7,157.6 350.7,155.9" fill="#1886f0"/>
<polygon class="a" points="340.9,99.6 349.2,108.5 361.9,106.0 353.6,97.0" fill="#00be8f"/>
<polygon class="b" points="249.8,162.4 259.7,164.2 270.7,161.2 261.0,159.5" fill="#197ff2"/>
<polygon class="b" points="105.1,162.8 116.1,163.0 128.5,152.8 117.6,151.7" fill="#1495eb"/>
<polygon class="b" points="387.3,158.1 396.1,160.0 405.6,156.6 397.0,154.8" fill="#1788ef"/>
<polygon class="a" points="349.2,108.5 357.5,117.1 370.2,114.8 361.9,106.0" fill="#02baaf"/>
<polygon class="c" points="206.2,128.6 217.1,130.7 227.6,128.3 216.8,126.2" fill="#0cc4c8"/>
<polygon class="a" points="357.5,117.1 365.8,124.9 378.5,122.7 370.2,114.8" fill="#06c0c0"/>
<polygon class="b" points="228.4,163.4 238.6,165.3 249.8,162.4 239.9,160.5" fill="#1a7df2"/>
<polygon class="a" points="207.1,55.9 215.5,60.1 228.1,57.1 219.8,53.1" fill="#fdbe27"/>
<polygon class="a" points="295.0,73.9 303.3,80.3 316.0,77.3 307.7,71.1" fill="#ddc71a"/>
<polygon class="b" points="206.7,164.2 217.0,166.4 228.4,163.4 218.3,161.2" fill="#1a7bf3"/>
<polygon class="c" points="411.2,128.7 421.1,130.9 430.6,128.5 420.8,126.3" fill="#0cc3c9"/>
<polygon class="b" points="320.8,160.4 330.2,162.1 340.4,159.0 331.3,157.3" fill="#1885f0"/>
<polygon class="a" points="365.8,124.9 374.1,132.8 386.8,130.7 378.5,122.7" fill="#11b5cf"/>
<polygon class="c" points="227.6,128.3 238.4,130.3 248.8,128.1 238.1,126.0" fill="#0bc5c7"/>
<polygon class="a" points="236.5,61.3 244.8,65.5 257.4,62.4 249.1,58.3" fill="#fcbd27"/>
<polygon class="b" points="128.5,152.8 139.4,159.3 151.5,156.4 140.9,149.8" fill="#178aee"/>
<polygon class="b" points="440.3,160.7 448.6,165.6 457.4,161.0 449.2,156.0" fill="#1980f1"/>
<polygon class="c" points="129.6,132.1 141.0,134.6 151.8,131.8 140.6,129.3" fill="#10b7cf"/>
<polygon class="c" points="391.7,128.7 401.7,131.0 411.2,128.7 401.3,126.4" fill="#0cc4c9"/>
<polygon class="b" points="414.1,158.6 422.7,160.5 431.9,157.0 423.5,155.1" fill="#1789ef"/>
<polygon class="a" points="265.7,66.8 274.0,71.6 286.7,68.6 278.4,63.9" fill="#fbbb25"/>
<polygon class="b" points="184.7,164.1 195.1,167.1 206.7,164.2 196.5,161.1" fill="#1a7af3"/>
<polygon class="c" points="248.8,128.1 259.6,130.0 269.9,127.9 259.2,125.9" fill="#0bc4c6"/>
<polygon class="c" points="371.9,128.6 382.0,130.9 391.7,128.7 381.7,126.3" fill="#0cc5c8"/>
<polygon class="a" points="374.1,132.8 382.4,140.5 395.1,138.6 386.8,130.7" fill="#2e9adc"/>
<polygon class="b" points="368.6,159.4 377.6,161.4 387.3,158.1 378.5,156.2" fill="#1788ef"/>
<polygon class="c" points="351.9,128.3 362.1,130.7 371.9,128.6 361.8,126.2" fill="#0cc5c8"/>
<polygon class="a" points="303.3,80.3 311.6,87.2 324.3,84.2 316.0,77.3" fill="#92d223"/>
<polygon class="c" points="269.9,127.9 280.5,129.8 290.7,127.8 280.2,125.7" fill="#0ac4c6"/>
<polygon class="c" points="331.7,128.1 342.0,130.4 351.9,128.3 341.7,126.0" fill="#0bc4c7"/>
<polygon class="b" points="300.8,161.7 310.3,163.4 320.8,160.4 311.5,158.6" fill="#1883f0"/>
<polygon class="c" points="290.7,127.8 301.2,129.9 311.3,127.9 300.9,125.7" fill="#0bc4c6"/>
<polygon class="c" points="311.3,127.9 321.7,130.1 331.7,128.1 321.4,125.9" fill="#0bc4c6"/>
<polygon class="c" points="151.8,131.8 163.1,134.1 173.8,131.4 162.6,129.1" fill="#0fbbcd"/>
<polygon class="b" points="162.2,162.6 172.9,167.0 184.7,164.1 174.2,159.6" fill="#1a7bf3"/>
<polygon class="a" points="311.6,87.2 319.9,94.4 332.6,91.5 324.3,84.2" fill="#1ccb39"/>
<polygon class="a" points="215.5,60.1 223.8,64.3 236.5,61.3 228.1,57.1" fill="#fcbd27"/>
<polygon class="b" points="280.4,162.9 290.2,164.7 300.8,161.7 291.3,160.0" fill="#1982f1"/>
<polygon class="b" points="448.6,165.6 457.0,170.3 465.6,165.7 457.4,161.0" fill="#1b78f4"/>
<polygon class="a" points="274.0,71.6 282.3,77.1 295.0,73.9 286.7,68.6" fill="#f8bc22"/>
<polygon class="c" points="173.8,131.4 184.9,133.7 195.5,131.1 184.5,128.8" fill="#0ebfcb"/>
<polygon class="b" points="349.6,160.8 358.7,162.7 368.6,159.4 359.7,157.6" fill="#1887ef"/>
<polygon class="a" points="244.8,65.5 253.1,70.0 265.7,66.8 257.4,62.4" fill="#fcbb26"/>
<polygon class="b" points="396.1,160.0 404.8,162.0 414.1,158.6 405.6,156.6" fill="#1789ef"/>
<polygon class="b" points="92.5,154.7 103.8,166.6 116.1,163.0 105.1,162.8" fill="#197ff2"/>
<polygon class="a" points="319.9,94.4 328.2,102.4 340.9,99.6 332.6,91.5" fill="#07c655"/>
<polygon class="b" points="139.4,159.3 150.2,165.6 162.2,162.6 151.5,156.4" fill="#1980f1"/>
<polygon class="b" points="259.7,164.2 269.6,165.9 280.4,162.9 270.7,161.2" fill="#1980f1"/>
<polygon class="a" points="328.2,102.4 336.5,111.1 349.2,108.5 340.9,99.6" fill="#00be90"/>
<polygon class="c" points="195.5,131.1 206.6,133.2 217.1,130.7 206.2,128.6" fill="#0dc3c9"/>
<polygon class="b" points="422.7,160.5 431.3,165.3 440.3,160.7 431.9,157.0" fill="#1884f0"/>
<polygon class="a" points="336.5,111.1 344.8,119.6 357.5,117.1 349.2,108.5" fill="#02baaf"/>
<polygon class="b" points="116.1,163.0 127.2,163.1 139.4,159.3 128.5,152.8" fill="#1789ef"/>
<polygon class="b" points="238.6,165.3 248.7,167.1 259.7,164.2 249.8,162.4" fill="#197ef2"/>
<polygon class="c" points="118.7,134.9 130.2,137.4 141.0,134.6 129.6,132.1" fill="#12b4d0"/>
<polygon class="b" points="330.2,162.1 339.5,164.0 349.6,160.8 340.4,159.0" fill="#1885f0"/>
<polygon class="a" points="282.3,77.1 290.6,83.6 303.3,80.3 295.0,73.9" fill="#d6c91b"/>
<polygon class="a" points="344.8,119.6 353.1,127.1 365.8,124.9 357.5,117.1" fill="#06c0c0"/>
<polygon class="a" points="194.5,58.6 202.8,63.0 215.5,60.1 207.1,55.9" fill="#fdbe27"/>
<polygon class="c" points="421.1,130.9 431.0,133.2 440.4,130.8 430.6,128.5" fill="#0dc3c9"/>
<polygon class="c" points="217.1,130.7 228.0,132.7 238.4,130.3 227.6,128.3" fill="#0cc5c7"/>
<polygon class="b" points="217.0,166.4 227.3,168.3 238.6,165.3 228.4,163.4" fill="#1a7cf2"/>
<polygon class="a" points="223.8,64.3 232.1,68.6 244.8,65.5 236.5,61.3" fill="#fcbc27"/>
<polygon class="c" points="401.7,131.0 411.7,133.3 421.1,130.9 411.2,128.7" fill="#0cc4c9"/>
<polygon class="b" points="377.6,161.4 386.5,163.4 396.1,160.0 387.3,158.1" fill="#1788ef"/>
<polygon class="b" points="457.0,170.3 465.4,174.6 473.8,170.1 465.6,165.7" fill="#1e71f5"/>
<polygon class="a" points="253.1,70.0 261.4,74.9 274.0,71.6 265.7,66.8" fill="#fabb24"/>
<polygon class="b" points="195.1,167.1 205.6,169.3 217.0,166.4 206.7,164.2" fill="#1a7af3"/>
<polygon class="a" points="353.1,127.1 361.4,134.7 374.1,132.8 365.8,124.9" fill="#10b8ce"/>
<polygon class="c" points="238.4,130.3 249.3,132.2 259.6,130.0 248.8,128.1" fill="#0bc4c6"/>
<polygon class="c" points="382.0,130.9 392.1,133.3 401.7,131.0 391.7,128.7" fill="#0cc4c8"/>
<polygon class="c" points="141.0,134.6 152.4,136.9 163.1,134.1 151.8,131.8" fill="#10b8ce"/>
<polygon class="c" points="362.1,130.7 372.3,133.2 382.0,130.9 371.9,128.6" fill="#0cc5c8"/>
<polygon class="a" points="290.6,83.6 298.9,90.4 311.6,87.2 303.3,80.3" fill="#89d224"/>
<polygon class="b" points="172.9,167.0 183.5,170.0 195.1,167.1 184.7,164.1" fill="#1b79f3"/>
<polygon class="c" points="259.6,130.0 270.3,132.0 280.5,129.8 269.9,127.9" fill="#0ac3c6"/>
<polygon class="b" points="310.3,163.4 319.9,165.3 330.2,162.1 320.8,160.4" fill="#1884f0"/>
<polygon class="c" points="342.0,130.4 352.4,132.9 362.1,130.7 351.9,128.3" fill="#0bc4c7"/>
<polygon class="a" points="361.4,134.7 369.7,142.3 382.4,140.5 374.1,132.8" fill="#2b9cdb"/>
<polygon class="c" points="280.5,129.8 291.1,131.9 301.2,129.9 290.7,127.8" fill="#0ac3c5"/>
<polygon class="c" points="321.7,130.1 332.2,132.5 342.0,130.4 331.7,128.1" fill="#0bc4c6"/>
<polygon class="c" points="301.2,129.9 311.8,132.1 321.7,130.1 311.3,127.9" fill="#0ac4c6"/>
<polygon class="b" points="431.3,165.3 439.9,170.2 448.6,165.6 440.3,160.7" fill="#1a7cf3"/>
<polygon class="b" points="103.8,166.6 115.0,176.5 127.2,163.1 116.1,163.0" fill="#1886f0"/>
<polygon class="b" points="150.2,165.6 161.1,170.0 172.9,167.0 162.2,162.6" fill="#1a7af3"/>
<polygon class="b" points="404.8,162.0 413.6,164.5 422.7,160.5 414.1,158.6" fill="#1789ef"/>
<polygon class="c" points="163.1,134.1 174.3,136.4 184.9,133.7 173.8,131.4" fill="#0fbdcc"/>
<polygon class="a" points="298.9,90.4 307.3,97.5 319.9,94.4 311.6,87.2" fill="#17cb3b"/>
<polygon class="b" points="358.7,162.7 367.9,164.7 377.6,161.4 368.6,159.4" fill="#1787ef"/>
<polygon class="a" points="202.8,63.0 211.2,67.3 223.8,64.3 215.5,60.1" fill="#fcbd27"/>
<polygon class="b" points="290.2,164.7 299.9,166.5 310.3,163.4 300.8,161.7" fill="#1883f1"/>
<polygon class="a" points="261.4,74.9 269.7,80.5 282.3,77.1 274.0,71.6" fill="#f4be20"/>
<polygon class="a" points="232.1,68.6 240.4,73.2 253.1,70.0 244.8,65.5" fill="#fcbb26"/>
<polygon class="b" points="465.4,174.6 473.8,178.7 482.0,174.2 473.8,170.1" fill="#246bf6"/>
<polygon class="a" points="307.3,97.5 315.6,105.5 328.2,102.4 319.9,94.4" fill="#06c658"/>
<polygon class="c" points="184.9,133.7 196.1,135.8 206.6,133.2 195.5,131.1" fill="#0dc1ca"/>
<polygon class="b" points="127.2,163.1 138.2,168.6 150.2,165.6 139.4,159.3" fill="#197ff2"/>
<polygon class="b" points="269.6,165.9 279.5,167.8 290.2,164.7 280.4,162.9" fill="#1981f1"/>
<polygon class="c" points="107.8,137.8 119.4,140.4 130.2,137.4 118.7,134.9" fill="#13afd2"/>
<polygon class="a" points="315.6,105.5 323.9,114.0 336.5,111.1 328.2,102.4" fill="#00bd92"/>
<polygon class="b" points="439.9,170.2 448.5,174.8 457.0,170.3 448.6,165.6" fill="#1c74f5"/>
<polygon class="b" points="339.5,164.0 348.8,166.0 358.7,162.7 349.6,160.8" fill="#1886f0"/>
<polygon class="a" points="323.9,114.0 332.2,122.1 344.8,119.6 336.5,111.1" fill="#02baaf"/>
<polygon class="c" points="206.6,133.2 217.7,135.1 228.0,132.7 217.1,130.7" fill="#0cc5c8"/>
<polygon class="a" points="269.7,80.5 278.0,87.0 290.6,83.6 282.3,77.1" fill="#cbcb1c"/>
<polygon class="c" points="431.0,133.2 441.0,135.5 450.2,133.0 440.4,130.8" fill="#0dc3c9"/>
<polygon class="b" points="248.7,167.1 258.8,168.9 269.6,165.9 259.7,164.2" fill="#197ff1"/>
<polygon class="b" points="386.5,163.4 395.5,165.4 404.8,162.0 396.1,160.0" fill="#1788ef"/>
<polygon class="a" points="181.8,61.3 190.2,65.6 202.8,63.0 194.5,58.6" fill="#fdbe27"/>
<polygon class="a" points="332.2,122.1 340.5,129.4 353.1,127.1 344.8,119.6" fill="#06c0bf"/>
<polygon class="c" points="411.7,133.3 421.7,135.7 431.0,133.2 421.1,130.9" fill="#0cc3c9"/>
<polygon class="a" points="211.2,67.3 219.5,71.6 232.1,68.6 223.8,64.3" fill="#fcbc26"/>
<polygon class="b" points="227.3,168.3 237.6,170.1 248.7,167.1 238.6,165.3" fill="#1a7ef2"/>
<polygon class="c" points="130.2,137.4 141.7,139.8 152.4,136.9 141.0,134.6" fill="#11b5d0"/>
<polygon class="a" points="240.4,73.2 248.8,78.2 261.4,74.9 253.1,70.0" fill="#fabc24"/>
<polygon class="c" points="228.0,132.7 239.0,134.6 249.3,132.2 238.4,130.3" fill="#0bc4c6"/>
<polygon class="b" points="413.6,164.5 422.4,169.8 431.3,165.3 422.7,160.5" fill="#1981f1"/>
<polygon class="c" points="392.1,133.3 402.2,135.7 411.7,133.3 401.7,131.0" fill="#0cc4c8"/>
<polygon class="b" points="205.6,169.3 216.1,171.2 227.3,168.3 217.0,166.4" fill="#1a7cf3"/>
<polygon class="b" points="80.0,156.3 91.4,161.3 103.8,166.6 92.5,154.7" fill="#1a7cf3"/>
<polygon class="b" points="319.9,165.3 329.4,167.2 339.5,164.0 330.2,162.1" fill="#1885f0"/>
<polygon class="a" points="278.0,87.0 286.3,93.8 298.9,90.4 290.6,83.6" fill="#7cd426"/>
<polygon class="c" points="372.3,133.2 382.6,135.6 392.1,133.3 382.0,130.9" fill="#0cc5c8"/>
<polygon class="b" points="473.8,178.7 482.2,182.4 490.2,178.0 482.0,174.2" fill="#2967f7"/>
<polygon class="a" points="340.5,129.4 348.8,136.7 361.4,134.7 353.1,127.1" fill="#0fbacd"/>
<polygon class="c" points="249.3,132.2 260.1,134.1 270.3,132.0 259.6,130.0" fill="#0ac3c5"/>
<polygon class="b" points="183.5,170.0 194.2,172.2 205.6,169.3 195.1,167.1" fill="#1a7af3"/>
<polygon class="c" points="352.4,132.9 362.7,135.4 372.3,133.2 362.1,130.7" fill="#0cc5c7"/>
<polygon class="c" points="270.3,132.0 281.1,134.0 291.1,131.9 280.5,129.8" fill="#0ac3c5"/>
<polygon class="b" points="161.1,170.0 171.9,172.9 183.5,170.0 172.9,167.0" fill="#1b79f3"/>
<polygon class="c" points="332.2,132.5 342.6,135.0 352.4,132.9 342.0,130.4" fill="#0bc4c7"/>
<polygon class="c" points="152.4,136.9 163.7,139.2 174.3,136.4 163.1,134.1" fill="#10bacd"/>
<polygon class="c" points="311.8,132.1 322.3,134.5 332.2,132.5 321.7,130.1" fill="#0ac4c6"/>
<polygon class="c" points="291.1,131.9 301.8,134.2 311.8,132.1 301.2,129.9" fill="#0ac3c5"/>
<polygon class="b" points="367.9,164.7 377.0,166.7 386.5,163.4 377.6,161.4" fill="#1787ef"/>
<polygon class="b" points="115.0,176.5 126.2,174.1 138.2,168.6 127.2,163.1" fill="#1a7df2"/>
<polygon class="b" points="448.5,174.8 457.0,179.1 465.4,174.6 457.0,170.3" fill="#216ef6"/>
<polygon class="a" points="348.8,136.7 357.1,143.9 369.7,142.3 361.4,134.7" fill="#279fda"/>
<polygon class="a" points="286.3,93.8 294.6,100.8 307.3,97.5 298.9,90.4" fill="#15ca3d"/>
<polygon class="b" points="299.9,166.5 309.6,168.4 319.9,165.3 310.3,163.4" fill="#1884f0"/>
<polygon class="b" points="138.2,168.6 149.3,172.9 161.1,170.0 150.2,165.6" fill="#1b79f3"/>
<polygon class="b" points="91.4,161.3 102.8,172.6 115.0,176.5 103.8,166.6" fill="#2769f7"/>
<polygon class="a" points="248.8,78.2 257.1,83.9 269.7,80.5 261.4,74.9" fill="#eec11e"/>
<polygon class="a" points="190.2,65.6 198.6,69.9 211.2,67.3 202.8,63.0" fill="#fcbd27"/>
<polygon class="a" points="219.5,71.6 227.9,76.2 240.4,73.2 232.1,68.6" fill="#fbbb25"/>
<polygon class="c" points="174.3,136.4 185.6,138.5 196.1,135.8 184.9,133.7" fill="#0ebfcb"/>
<polygon class="c" points="96.9,140.7 108.6,143.3 119.4,140.4 107.8,137.8" fill="#15abd4"/>
<polygon class="b" points="422.4,169.8 431.1,174.7 439.9,170.2 431.3,165.3" fill="#1b78f4"/>
<polygon class="a" points="294.6,100.8 302.9,108.6 315.6,105.5 307.3,97.5" fill="#04c55c"/>
<polygon class="b" points="395.5,165.4 404.5,169.1 413.6,164.5 404.8,162.0" fill="#1886f0"/>
<polygon class="b" points="279.5,167.8 289.4,169.6 299.9,166.5 290.2,164.7" fill="#1982f1"/>
<polygon class="b" points="348.8,166.0 358.2,168.0 367.9,164.7 358.7,162.7" fill="#1886f0"/>
<polygon class="a" points="302.9,108.6 311.3,116.8 323.9,114.0 315.6,105.5" fill="#00bd94"/>
<polygon class="c" points="196.1,135.8 207.3,137.7 217.7,135.1 206.6,133.2" fill="#0cc4c8"/>
<polygon class="b" points="482.2,182.4 490.6,185.7 498.4,181.5 490.2,178.0" fill="#2d63f8"/>
<polygon class="c" points="441.0,135.5 450.9,137.8 460.0,135.3 450.2,133.0" fill="#0dc3c9"/>
<polygon class="a" points="257.1,83.9 265.4,90.4 278.0,87.0 269.7,80.5" fill="#bfcd1d"/>
<polygon class="c" points="119.4,140.4 131.0,142.8 141.7,139.8 130.2,137.4" fill="#13b1d2"/>
<polygon class="a" points="311.3,116.8 319.6,124.6 332.2,122.1 323.9,114.0" fill="#02baaf"/>
<polygon class="b" points="258.8,168.9 268.9,170.8 279.5,167.8 269.6,165.9" fill="#1981f1"/>
<polygon class="b" points="457.0,179.1 465.6,183.1 473.8,178.7 465.4,174.6" fill="#2769f7"/>
<polygon class="c" points="421.7,135.7 431.7,138.0 441.0,135.5 431.0,133.2" fill="#0dc3c9"/>
<polygon class="b" points="102.8,172.6 114.3,186.9 126.2,174.1 115.0,176.5" fill="#1c75f4"/>
<polygon class="a" points="169.1,64.0 177.6,68.1 190.2,65.6 181.8,61.3" fill="#fdbe27"/>
<polygon class="c" points="217.7,135.1 228.7,137.0 239.0,134.6 228.0,132.7" fill="#0bc4c6"/>
<polygon class="a" points="227.9,76.2 236.2,81.2 248.8,78.2 240.4,73.2" fill="#f9bc23"/>
<polygon class="c" points="402.2,135.7 412.3,138.1 421.7,135.7 411.7,133.3" fill="#0cc4c9"/>
<polygon class="a" points="198.6,69.9 207.0,74.2 219.5,71.6 211.2,67.3" fill="#fcbc26"/>
<polygon class="a" points="319.6,124.6 327.9,131.6 340.5,129.4 332.2,122.1" fill="#06bfbf"/>
<polygon class="b" points="237.6,170.1 247.9,172.0 258.8,168.9 248.7,167.1" fill="#197ff2"/>
<polygon class="b" points="329.4,167.2 338.9,169.2 348.8,166.0 339.5,164.0" fill="#1885f0"/>
<polygon class="b" points="431.1,174.7 439.9,179.3 448.5,174.8 439.9,170.2" fill="#1e71f5"/>
<polygon class="a" points="265.4,90.4 273.7,97.1 286.3,93.8 278.0,87.0" fill="#68d229"/>
<polygon class="c" points="382.6,135.6 392.8,138.1 402.2,135.7 392.1,133.3" fill="#0cc4c8"/>
<polygon class="c" points="141.7,139.8 153.1,142.1 163.7,139.2 152.4,136.9" fill="#11b6cf"/>
<polygon class="c" points="239.0,134.6 249.9,136.5 260.1,134.1 249.3,132.2" fill="#0ac3c5"/>
<polygon class="b" points="216.1,171.2 226.6,173.1 237.6,170.1 227.3,168.3" fill="#1a7df2"/>
<polygon class="c" points="362.7,135.4 373.0,137.9 382.6,135.6 372.3,133.2" fill="#0cc5c8"/>
<polygon class="b" points="377.0,166.7 386.2,168.8 395.5,165.4 386.5,163.4" fill="#1787ef"/>
<polygon class="b" points="194.2,172.2 204.9,174.1 216.1,171.2 205.6,169.3" fill="#1a7bf3"/>
<polygon class="c" points="342.6,135.0 353.0,137.6 362.7,135.4 352.4,132.9" fill="#0bc4c7"/>
<polygon class="a" points="327.9,131.6 336.2,138.7 348.8,136.7 340.5,129.4" fill="#0fbdcc"/>
<polygon class="c" points="260.1,134.1 271.0,136.2 281.1,134.0 270.3,132.0" fill="#09c3c4"/>
<polygon class="b" points="404.5,169.1 413.4,174.3 422.4,169.8 413.6,164.5" fill="#1a7df2"/>
<polygon class="b" points="171.9,172.9 182.8,175.1 194.2,172.2 183.5,170.0" fill="#1b79f3"/>
<polygon class="c" points="322.3,134.5 332.8,137.1 342.6,135.0 332.2,132.5" fill="#0bc4c6"/>
<polygon class="c" points="281.1,134.0 291.8,136.3 301.8,134.2 291.1,131.9" fill="#09c3c4"/>
<polygon class="c" points="301.8,134.2 312.4,136.6 322.3,134.5 311.8,132.1" fill="#0ac3c5"/>
<polygon class="c" points="86.0,143.6 97.8,146.2 108.6,143.3 96.9,140.7" fill="#1aa8d6"/>
<polygon class="b" points="149.3,172.9 160.3,175.8 171.9,172.9 161.1,170.0" fill="#1b78f4"/>
<polygon class="a" points="273.7,97.1 282.1,104.0 294.6,100.8 286.3,93.8" fill="#13ca40"/>
<polygon class="b" points="67.4,159.0 79.0,163.8 91.4,161.3 80.0,156.3" fill="#1592ec"/>
<polygon class="b" points="309.6,168.4 319.3,170.4 329.4,167.2 319.9,165.3" fill="#1884f0"/>
<polygon class="c" points="163.7,139.2 175.1,141.3 185.6,138.5 174.3,136.4" fill="#0fbccc"/>
<polygon class="b" points="126.2,174.1 137.5,175.9 149.3,172.9 138.2,168.6" fill="#1b78f4"/>
<polygon class="b" points="490.6,185.7 499.0,189.2 506.6,184.7 498.4,181.5" fill="#315ff8"/>
<polygon class="a" points="236.2,81.2 244.6,87.0 257.1,83.9 248.8,78.2" fill="#e8c41b"/>
<polygon class="a" points="336.2,138.7 344.5,145.6 357.1,143.9 348.8,136.7" fill="#22a3d8"/>
<polygon class="a" points="177.6,68.1 186.1,72.4 198.6,69.9 190.2,65.6" fill="#fcbd27"/>
<polygon class="b" points="465.6,183.1 474.2,186.7 482.2,182.4 473.8,178.7" fill="#2c64f7"/>
<polygon class="a" points="207.0,74.2 215.4,78.8 227.9,76.2 219.5,71.6" fill="#fbbb25"/>
<polygon class="a" points="282.1,104.0 290.4,111.7 302.9,108.6 294.6,100.8" fill="#02c560"/>
<polygon class="b" points="358.2,168.0 367.5,170.1 377.0,166.7 367.9,164.7" fill="#1886ef"/>
<polygon class="b" points="439.9,179.3 448.7,183.6 457.0,179.1 448.5,174.8" fill="#246bf6"/>
<polygon class="b" points="289.4,169.6 299.3,171.6 309.6,168.4 299.9,166.5" fill="#1883f0"/>
<polygon class="c" points="185.6,138.5 196.9,140.4 207.3,137.7 196.1,135.8" fill="#0dc2c9"/>
<polygon class="c" points="108.6,143.3 120.2,145.7 131.0,142.8 119.4,140.4" fill="#14acd4"/>
<polygon class="a" points="290.4,111.7 298.7,119.6 311.3,116.8 302.9,108.6" fill="#00bd96"/>
<polygon class="c" points="450.9,137.8 460.8,140.0 469.8,137.5 460.0,135.3" fill="#0dc3c9"/>
<polygon class="a" points="244.6,87.0 252.9,93.4 265.4,90.4 257.1,83.9" fill="#b1cf1f"/>
<polygon class="b" points="413.4,174.3 422.4,179.1 431.1,174.7 422.4,169.8" fill="#1c75f5"/>
<polygon class="c" points="431.7,138.0 441.7,140.3 450.9,137.8 441.0,135.5" fill="#0dc3c9"/>
<polygon class="a" points="298.7,119.6 307.0,127.1 319.6,124.6 311.3,116.8" fill="#02baaf"/>
<polygon class="b" points="268.9,170.8 278.9,172.7 289.4,169.6 279.5,167.8" fill="#1982f1"/>
<polygon class="c" points="207.3,137.7 218.4,139.6 228.7,137.0 217.7,135.1" fill="#0bc4c7"/>
<polygon class="b" points="386.2,168.8 395.3,173.5 404.5,169.1 395.5,165.4" fill="#1882f1"/>
<polygon class="c" points="131.0,142.8 142.5,145.0 153.1,142.1 141.7,139.8" fill="#12b2d1"/>
<polygon class="c" points="412.3,138.1 422.5,140.4 431.7,138.0 421.7,135.7" fill="#0dc3c9"/>
<polygon class="a" points="156.4,66.9 165.0,70.8 177.6,68.1 169.1,64.0" fill="#fdbe27"/>
<polygon class="b" points="338.9,169.2 348.5,171.4 358.2,168.0 348.8,166.0" fill="#1886f0"/>
<polygon class="b" points="114.3,186.9 125.7,184.2 137.5,175.9 126.2,174.1" fill="#1b77f4"/>
<polygon class="b" points="79.0,163.8 90.6,171.1 102.8,172.6 91.4,161.3" fill="#1b79f3"/>
<polygon class="b" points="499.0,189.2 507.4,193.3 514.8,188.4 506.6,184.7" fill="#365bf9"/>
<polygon class="a" points="215.4,78.8 223.8,83.8 236.2,81.2 227.9,76.2" fill="#f9bc23"/>
<polygon class="b" points="247.9,172.0 258.2,173.9 268.9,170.8 258.8,168.9" fill="#1980f1"/>
<polygon class="c" points="392.8,138.1 403.0,140.5 412.3,138.1 402.2,135.7" fill="#0cc4c9"/>
<polygon class="a" points="186.1,72.4 194.5,76.6 207.0,74.2 198.6,69.9" fill="#fcbc26"/>
<polygon class="a" points="252.9,93.4 261.3,100.0 273.7,97.1 265.4,90.4" fill="#54d12e"/>
<polygon class="a" points="307.0,127.1 315.4,133.9 327.9,131.6 319.6,124.6" fill="#05bfbe"/>
<polygon class="c" points="228.7,137.0 239.8,138.9 249.9,136.5 239.0,134.6" fill="#0ac3c5"/>
<polygon class="c" points="373.0,137.9 383.3,140.4 392.8,138.1 382.6,135.6" fill="#0cc5c8"/>
<polygon class="b" points="474.2,186.7 482.8,190.0 490.6,185.7 482.2,182.4" fill="#2f61f8"/>
<polygon class="c" points="75.1,146.4 86.9,149.0 97.8,146.2 86.0,143.6" fill="#1fa5d7"/>
<polygon class="b" points="226.6,173.1 237.1,175.0 247.9,172.0 237.6,170.1" fill="#197ef2"/>
<polygon class="c" points="353.0,137.6 363.4,140.2 373.0,137.9 362.7,135.4" fill="#0cc5c7"/>
<polygon class="c" points="249.9,136.5 260.9,138.5 271.0,136.2 260.1,134.1" fill="#09c3c4"/>
<polygon class="b" points="448.7,183.6 457.4,187.4 465.6,183.1 457.0,179.1" fill="#2a66f7"/>
<polygon class="b" points="54.9,164.5 66.7,169.0 79.0,163.8 67.4,159.0" fill="#1591ec"/>
<polygon class="c" points="153.1,142.1 164.6,144.2 175.1,141.3 163.7,139.2" fill="#10b9ce"/>
<polygon class="b" points="90.6,171.1 102.3,179.4 114.3,186.9 102.8,172.6" fill="#355cf9"/>
<polygon class="c" points="332.8,137.1 343.3,139.8 353.0,137.6 342.6,135.0" fill="#0bc4c7"/>
<polygon class="b" points="204.9,174.1 215.5,176.0 226.6,173.1 216.1,171.2" fill="#1a7cf2"/>
<polygon class="b" points="319.3,170.4 329.0,172.5 338.9,169.2 329.4,167.2" fill="#1885f0"/>
<polygon class="c" points="271.0,136.2 281.8,138.5 291.8,136.3 281.1,134.0" fill="#09c2c4"/>
<polygon class="c" points="312.4,136.6 323.0,139.3 332.8,137.1 322.3,134.5" fill="#0ac3c6"/>
<polygon class="a" points="315.4,133.9 323.7,140.7 336.2,138.7 327.9,131.6" fill="#0ec0ca"/>
<polygon class="a" points="261.3,100.0 269.6,106.9 282.1,104.0 273.7,97.1" fill="#11ca42"/>
<polygon class="c" points="291.8,136.3 302.5,138.8 312.4,136.6 301.8,134.2" fill="#09c3c5"/>
<polygon class="b" points="182.8,175.1 193.6,177.1 204.9,174.1 194.2,172.2" fill="#1a7af3"/>
<polygon class="b" points="422.4,179.1 431.3,183.7 439.9,179.3 431.1,174.7" fill="#216ef6"/>
<polygon class="b" points="160.3,175.8 171.4,178.0 182.8,175.1 171.9,172.9" fill="#1b79f3"/>
<polygon class="b" points="137.5,175.9 148.7,178.7 160.3,175.8 149.3,172.9" fill="#1b77f4"/>
<polygon class="a" points="223.8,83.8 232.2,89.5 244.6,87.0 236.2,81.2" fill="#e5c619"/>
<polygon class="b" points="367.5,170.1 376.9,172.4 386.2,168.8 377.0,166.7" fill="#1886ef"/>
<polygon class="c" points="97.8,146.2 109.5,148.6 120.2,145.7 108.6,143.3" fill="#19a9d5"/>
<polygon class="b" points="395.3,173.5 404.5,178.7 413.4,174.3 404.5,169.1" fill="#1b79f3"/>
<polygon class="c" points="175.1,141.3 186.5,143.3 196.9,140.4 185.6,138.5" fill="#0ec0cb"/>
<polygon class="b" points="42.3,178.6 54.3,181.3 66.7,169.0 54.9,164.5" fill="#178aee"/>
<polygon class="a" points="165.0,70.8 173.6,74.9 186.1,72.4 177.6,68.1" fill="#fcbd27"/>
<polygon class="b" points="507.4,193.3 513.4,195.7 523.0,192.2 514.8,188.4" fill="#3b56fa"/>
<polygon class="a" points="269.6,106.9 278.0,114.5 290.4,111.7 282.1,104.0" fill="#00c464"/>
<polygon class="a" points="194.5,76.6 203.0,81.1 215.4,78.8 207.0,74.2" fill="#fbbb25"/>
<polygon class="a" points="323.7,140.7 332.0,147.3 344.5,145.6 336.2,138.7" fill="#1da6d7"/>
<polygon class="b" points="299.3,171.6 309.2,173.6 319.3,170.4 309.6,168.4" fill="#1884f0"/>
<polygon class="c" points="460.8,140.0 470.7,142.3 479.6,139.7 469.8,137.5" fill="#0dc3c9"/>
<polygon class="a" points="278.0,114.5 286.3,122.3 298.7,119.6 290.4,111.7" fill="#00bd98"/>
<polygon class="b" points="102.3,179.4 113.9,192.4 125.7,184.2 114.3,186.9" fill="#2769f7"/>
<polygon class="c" points="196.9,140.4 208.1,142.3 218.4,139.6 207.3,137.7" fill="#0cc5c8"/>
<polygon class="b" points="482.8,190.0 491.4,194.1 499.0,189.2 490.6,185.7" fill="#345df9"/>
<polygon class="c" points="120.2,145.7 131.9,148.0 142.5,145.0 131.0,142.8" fill="#13aed3"/>
<polygon class="a" points="232.2,89.5 240.6,96.0 252.9,93.4 244.6,87.0" fill="#a7d020"/>
<polygon class="c" points="441.7,140.3 451.7,142.5 460.8,140.0 450.9,137.8" fill="#0dc3c9"/>
<polygon class="b" points="278.9,172.7 289.0,174.7 299.3,171.6 289.4,169.6" fill="#1882f1"/>
<polygon class="b" points="348.5,171.4 358.0,173.5 367.5,170.1 358.2,168.0" fill="#1886f0"/>
<polygon class="b" points="457.4,187.4 466.2,190.9 474.2,186.7 465.6,183.1" fill="#2e62f8"/>
<polygon class="b" points="513.4,195.7 513.4,195.7 526.0,193.2 523.0,192.2" fill="#3c55fa"/>
<polygon class="a" points="286.3,122.3 294.7,129.6 307.0,127.1 298.7,119.6" fill="#02baaf"/>
<polygon class="c" points="422.5,140.4 432.6,142.8 441.7,140.3 431.7,138.0" fill="#0dc3c9"/>
<polygon class="b" points="431.3,183.7 440.3,187.9 448.7,183.6 439.9,179.3" fill="#2769f7"/>
<polygon class="a" points="143.7,69.9 152.5,73.5 165.0,70.8 156.4,66.9" fill="#fdbe27"/>
<polygon class="c" points="64.1,149.1 76.1,151.7 86.9,149.0 75.1,146.4" fill="#23a2d9"/>
<polygon class="c" points="218.4,139.6 229.6,141.5 239.8,138.9 228.7,137.0" fill="#0ac3c5"/>
<polygon class="c" points="403.0,140.5 413.2,142.9 422.5,140.4 412.3,138.1" fill="#0cc3c9"/>
<polygon class="b" points="66.7,169.0 78.5,175.4 90.6,171.1 79.0,163.8" fill="#1884f0"/>
<polygon class="b" points="404.5,178.7 413.6,183.5 422.4,179.1 413.4,174.3" fill="#1d72f5"/>
<polygon class="b" points="258.2,173.9 268.5,175.8 278.9,172.7 268.9,170.8" fill="#1981f1"/>
<polygon class="a" points="203.0,81.1 211.5,86.1 223.8,83.8 215.4,78.8" fill="#f8bc22"/>
<polygon class="c" points="383.3,140.4 393.6,142.9 403.0,140.5 392.8,138.1" fill="#0cc4c8"/>
<polygon class="a" points="240.6,96.0 249.0,102.5 261.3,100.0 252.9,93.4" fill="#49d030"/>
<polygon class="c" points="142.5,145.0 154.1,147.1 164.6,144.2 153.1,142.1" fill="#11b5d0"/>
<polygon class="a" points="173.6,74.9 182.2,79.0 194.5,76.6 186.1,72.4" fill="#fcbc26"/>
<polygon class="a" points="294.7,129.6 303.0,136.2 315.4,133.9 307.0,127.1" fill="#05bfbd"/>
<polygon class="c" points="363.4,140.2 373.9,142.8 383.3,140.4 373.0,137.9" fill="#0cc5c8"/>
<polygon class="c" points="239.8,138.9 250.8,140.9 260.9,138.5 249.9,136.5" fill="#09c3c4"/>
<polygon class="b" points="376.9,172.4 386.2,177.9 395.3,173.5 386.2,168.8" fill="#197ff2"/>
<polygon class="b" points="237.1,175.0 247.5,176.9 258.2,173.9 247.9,172.0" fill="#1980f1"/>
<polygon class="b" points="329.0,172.5 338.8,174.7 348.5,171.4 338.9,169.2" fill="#1885f0"/>
<polygon class="c" points="343.3,139.8 353.9,142.5 363.4,140.2 353.0,137.6" fill="#0bc4c7"/>
<polygon class="c" points="260.9,138.5 271.8,140.8 281.8,138.5 271.0,136.2" fill="#09c2c4"/>
<polygon class="c" points="323.0,139.3 333.7,142.0 343.3,139.8 332.8,137.1" fill="#0bc4c6"/>
<polygon class="c" points="86.9,149.0 98.8,151.4 109.5,148.6 97.8,146.2" fill="#1da6d7"/>
<polygon class="b" points="125.7,184.2 137.1,182.0 148.7,178.7 137.5,175.9" fill="#1b76f4"/>
<polygon class="c" points="302.5,138.8 313.3,141.5 323.0,139.3 312.4,136.6" fill="#0ac3c5"/>
<polygon class="c" points="281.8,138.5 292.7,141.0 302.5,138.8 291.8,136.3" fill="#09c3c4"/>
<polygon class="b" points="215.5,176.0 226.2,178.0 237.1,175.0 226.6,173.1" fill="#1a7ef2"/>
<polygon class="a" points="249.0,102.5 257.4,109.4 269.6,106.9 261.3,100.0" fill="#10c944"/>
<polygon class="b" points="491.4,194.1 500.0,197.8 507.4,193.3 499.0,189.2" fill="#3a57fa"/>
<polygon class="c" points="164.6,144.2 176.1,146.1 186.5,143.3 175.1,141.3" fill="#0fbccc"/>
<polygon class="b" points="193.6,177.1 204.5,179.0 215.5,176.0 204.9,174.1" fill="#1a7cf2"/>
<polygon class="a" points="303.0,136.2 311.4,142.8 323.7,140.7 315.4,133.9" fill="#0dc3c9"/>
<polygon class="b" points="171.4,178.0 182.4,180.0 193.6,177.1 182.8,175.1" fill="#1a7af3"/>
<polygon class="b" points="148.7,178.7 160.0,180.9 171.4,178.0 160.3,175.8" fill="#1b78f4"/>
<polygon class="a" points="211.5,86.1 220.0,91.7 232.2,89.5 223.8,83.8" fill="#e5c619"/>
<polygon class="b" points="466.2,190.9 475.0,194.6 482.8,190.0 474.2,186.7" fill="#325ff8"/>
<polygon class="b" points="54.3,181.3 66.3,183.7 78.5,175.4 66.7,169.0" fill="#197ff1"/>
<polygon class="b" points="309.2,173.6 319.1,175.8 329.0,172.5 319.3,170.4" fill="#1884f0"/>
<polygon class="b" points="440.3,187.9 449.3,191.6 457.4,187.4 448.7,183.6" fill="#2c64f7"/>
<polygon class="a" points="152.5,73.5 161.3,77.4 173.6,74.9 165.0,70.8" fill="#fcbd27"/>
<polygon class="a" points="257.4,109.4 265.8,116.9 278.0,114.5 269.6,106.9" fill="#00c466"/>
<polygon class="c" points="470.7,142.3 480.6,144.5 489.4,141.9 479.6,139.7" fill="#0dc3c9"/>
<polygon class="b" points="413.6,183.5 422.8,188.0 431.3,183.7 422.4,179.1" fill="#246cf6"/>
<polygon class="c" points="109.5,148.6 121.3,150.9 131.9,148.0 120.2,145.7" fill="#16aad5"/>
<polygon class="c" points="186.5,143.3 197.8,145.1 208.1,142.3 196.9,140.4" fill="#0cc4c9"/>
<polygon class="a" points="182.2,79.0 190.8,83.5 203.0,81.1 194.5,76.6" fill="#fbbb25"/>
<polygon class="b" points="78.5,175.4 90.3,181.0 102.3,179.4 90.6,171.1" fill="#1c74f5"/>
<polygon class="a" points="311.4,142.8 319.7,149.4 332.0,147.3 323.7,140.7" fill="#18a9d5"/>
<polygon class="b" points="358.0,173.5 367.5,176.8 376.9,172.4 367.5,170.1" fill="#1885f0"/>
<polygon class="b" points="386.2,177.9 395.5,183.1 404.5,178.7 395.3,173.5" fill="#1b76f4"/>
<polygon class="c" points="451.7,142.5 461.7,144.8 470.7,142.3 460.8,140.0" fill="#0dc3c9"/>
<polygon class="a" points="265.8,116.9 274.2,124.7 286.3,122.3 278.0,114.5" fill="#00bd98"/>
<polygon class="b" points="500.0,197.8 500.9,198.1 513.4,195.7 507.4,193.3" fill="#3c55fa"/>
<polygon class="b" points="289.0,174.7 299.1,176.8 309.2,173.6 299.3,171.6" fill="#1883f0"/>
<polygon class="c" points="53.2,151.5 65.3,154.1 76.1,151.7 64.1,149.1" fill="#26a0da"/>
<polygon class="c" points="432.6,142.8 442.7,145.1 451.7,142.5 441.7,140.3" fill="#0dc3c9"/>
<polygon class="a" points="220.0,91.7 228.4,98.1 240.6,96.0 232.2,89.5" fill="#a7d020"/>
<polygon class="b" points="113.9,192.4 125.5,193.2 137.1,182.0 125.7,184.2" fill="#1c75f5"/>
<polygon class="c" points="208.1,142.3 219.4,144.2 229.6,141.5 218.4,139.6" fill="#0bc4c6"/>
<polygon class="c" points="131.9,148.0 143.6,150.1 154.1,147.1 142.5,145.0" fill="#12b1d2"/>
<polygon class="c" points="413.2,142.9 423.4,145.3 432.6,142.8 422.5,140.4" fill="#0dc3c9"/>
<polygon class="a" points="131.1,73.0 140.1,76.3 152.5,73.5 143.7,69.9" fill="#fdbe27"/>
<polygon class="a" points="274.2,124.7 282.6,132.0 294.7,129.6 286.3,122.3" fill="#02baaf"/>
<polygon class="c" points="393.6,142.9 404.0,145.4 413.2,142.9 403.0,140.5" fill="#0cc4c9"/>
<polygon class="b" points="268.5,175.8 278.8,177.9 289.0,174.7 278.9,172.7" fill="#1982f1"/>
<polygon class="c" points="229.6,141.5 240.7,143.5 250.8,140.9 239.8,138.9" fill="#09c3c4"/>
<polygon class="c" points="373.9,142.8 384.3,145.3 393.6,142.9 383.3,140.4" fill="#0cc4c8"/>
<polygon class="b" points="338.8,174.7 348.5,176.9 358.0,173.5 348.5,171.4" fill="#1885f0"/>
<polygon class="c" points="76.1,151.7 88.1,154.1 98.8,151.4 86.9,149.0" fill="#21a3d8"/>
<polygon class="b" points="475.0,194.6 483.8,198.9 491.4,194.1 482.8,190.0" fill="#3759f9"/>
<polygon class="a" points="190.8,83.5 199.4,88.2 211.5,86.1 203.0,81.1" fill="#f9bc23"/>
<polygon class="a" points="228.4,98.1 236.9,104.7 249.0,102.5 240.6,96.0" fill="#4ad030"/>
<polygon class="a" points="161.3,77.4 170.1,81.4 182.2,79.0 173.6,74.9" fill="#fcbc26"/>
<polygon class="c" points="353.9,142.5 364.4,145.2 373.9,142.8 363.4,140.2" fill="#0cc5c8"/>
<polygon class="b" points="449.3,191.6 458.2,195.1 466.2,190.9 457.4,187.4" fill="#3061f8"/>
<polygon class="a" points="282.6,132.0 291.0,138.6 303.0,136.2 294.7,129.6" fill="#05bfbd"/>
<polygon class="b" points="90.3,181.0 102.1,185.5 113.9,192.4 102.3,179.4" fill="#355bf9"/>
<polygon class="b" points="422.8,188.0 431.9,192.1 440.3,187.9 431.3,183.7" fill="#2966f7"/>
<polygon class="b" points="247.5,176.9 258.0,178.9 268.5,175.8 258.2,173.9" fill="#1981f1"/>
<polygon class="c" points="154.1,147.1 165.7,149.1 176.1,146.1 164.6,144.2" fill="#10b9ce"/>
<polygon class="c" points="250.8,140.9 261.9,143.2 271.8,140.8 260.9,138.5" fill="#09c2c4"/>
<polygon class="c" points="333.7,142.0 344.3,144.8 353.9,142.5 343.3,139.8" fill="#0bc4c7"/>
<polygon class="b" points="395.5,183.1 404.9,187.9 413.6,183.5 404.5,178.7" fill="#206ff6"/>
<polygon class="c" points="313.3,141.5 324.0,144.3 333.7,142.0 323.0,139.3" fill="#0ac4c6"/>
<polygon class="c" points="271.8,140.8 282.8,143.3 292.7,141.0 281.8,138.5" fill="#09c2c4"/>
<polygon class="c" points="292.7,141.0 303.5,143.8 313.3,141.5 302.5,138.8" fill="#0ac3c5"/>
<polygon class="b" points="226.2,178.0 236.9,180.0 247.5,176.9 237.1,175.0" fill="#197ff2"/>
<polygon class="b" points="367.5,176.8 377.1,182.3 386.2,177.9 376.9,172.4" fill="#1a7bf3"/>
<polygon class="c" points="98.8,151.4 110.7,153.7 121.3,150.9 109.5,148.6" fill="#1ba7d6"/>
<polygon class="b" points="319.1,175.8 329.1,178.0 338.8,174.7 329.0,172.5" fill="#1884f0"/>
<polygon class="a" points="236.9,104.7 245.4,111.5 257.4,109.4 249.0,102.5" fill="#10c943"/>
<polygon class="b" points="204.5,179.0 215.4,181.0 226.2,178.0 215.5,176.0" fill="#1a7df2"/>
<polygon class="b" points="66.3,183.7 78.3,186.0 90.3,181.0 78.5,175.4" fill="#1b77f4"/>
<polygon class="a" points="291.0,138.6 299.3,145.2 311.4,142.8 303.0,136.2" fill="#0cc5c8"/>
<polygon class="c" points="480.6,144.5 490.5,146.7 499.2,144.1 489.4,141.9" fill="#0dc3c9"/>
<polygon class="c" points="176.1,146.1 187.5,148.0 197.8,145.1 186.5,143.3" fill="#0ec0ca"/>
<polygon class="b" points="182.4,180.0 193.5,182.0 204.5,179.0 193.6,177.1" fill="#1a7bf3"/>
<polygon class="b" points="137.1,182.0 148.5,183.8 160.0,180.9 148.7,178.7" fill="#1b77f4"/>
<polygon class="b" points="160.0,180.9 171.2,182.9 182.4,180.0 171.4,178.0" fill="#1b79f3"/>
<polygon class="a" points="140.1,76.3 149.2,80.1 161.3,77.4 152.5,73.5" fill="#fcbd27"/>
<polygon class="a" points="199.4,88.2 208.0,93.7 220.0,91.7 211.5,86.1" fill="#e7c41a"/>
<polygon class="c" points="461.7,144.8 471.7,147.1 480.6,144.5 470.7,142.3" fill="#0dc3c9"/>
<polygon class="b" points="483.8,198.9 488.3,200.5 500.0,197.8 491.4,194.1" fill="#3c55fa"/>
<polygon class="a" points="67.7,131.9 78.6,133.1 91.0,123.6 80.3,124.1" fill="#00bf88"/>
<polygon class="c" points="42.3,153.7 54.5,156.4 65.3,154.1 53.2,151.5" fill="#289eda"/>
<polygon class="a" points="245.4,111.5 253.9,119.1 265.8,116.9 257.4,109.4" fill="#00c465"/>
<polygon class="a" points="170.1,81.4 178.9,85.7 190.8,83.5 182.2,79.0" fill="#fbbb25"/>
<polygon class="b" points="299.1,176.8 309.2,179.1 319.1,175.8 309.2,173.6" fill="#1883f0"/>
<polygon class="c" points="121.3,150.9 133.1,153.0 143.6,150.1 131.9,148.0" fill="#14add4"/>
<polygon class="c" points="197.8,145.1 209.2,147.1 219.4,144.2 208.1,142.3" fill="#0bc4c7"/>
<polygon class="c" points="442.7,145.1 452.8,147.4 461.7,144.8 451.7,142.5" fill="#0dc3c9"/>
<polygon class="a" points="299.3,145.2 307.7,151.7 319.7,149.4 311.4,142.8" fill="#15abd4"/>
<polygon class="b" points="102.1,185.5 113.9,195.2 125.5,193.2 113.9,192.4" fill="#315ff8"/>
<polygon class="b" points="458.2,195.1 467.2,199.4 475.0,194.6 466.2,190.9" fill="#355cf9"/>
<polygon class="b" points="431.9,192.1 441.1,195.7 449.3,191.6 440.3,187.9" fill="#2e62f8"/>
<polygon class="b" points="404.9,187.9 414.2,192.3 422.8,188.0 413.6,183.5" fill="#2769f7"/>
<polygon class="a" points="253.9,119.1 262.3,126.9 274.2,124.7 265.8,116.9" fill="#00bd97"/>
<polygon class="c" points="423.4,145.3 433.6,147.6 442.7,145.1 432.6,142.8" fill="#0dc3c9"/>
<polygon class="a" points="118.4,76.5 127.8,79.6 140.1,76.3 131.1,73.0" fill="#fdbe27"/>
<polygon class="b" points="488.3,200.5 488.3,200.5 500.9,198.1 500.0,197.8" fill="#3c55fa"/>
<polygon class="b" points="377.1,182.3 386.6,187.4 395.5,183.1 386.2,177.9" fill="#1c73f5"/>
<polygon class="b" points="348.5,176.9 358.2,181.1 367.5,176.8 358.0,173.5" fill="#1982f1"/>
<polygon class="a" points="80.3,124.1 91.0,123.6 103.2,103.3 93.0,101.7" fill="#92d223"/>
<polygon class="c" points="65.3,154.1 77.4,156.6 88.1,154.1 76.1,151.7" fill="#24a1d9"/>
<polygon class="c" points="404.0,145.4 414.3,147.8 423.4,145.3 413.2,142.9" fill="#0dc3c9"/>
<polygon class="a" points="208.0,93.7 216.6,100.0 228.4,98.1 220.0,91.7" fill="#aecf1f"/>
<polygon class="c" points="219.4,144.2 230.6,146.3 240.7,143.5 229.6,141.5" fill="#0ac3c5"/>
<polygon class="b" points="278.8,177.9 289.1,180.1 299.1,176.8 289.0,174.7" fill="#1882f1"/>
<polygon class="a" points="55.0,139.4 66.2,142.4 78.6,133.1 67.7,131.9" fill="#02baac"/>
<polygon class="c" points="384.3,145.3 394.7,147.8 404.0,145.4 393.6,142.9" fill="#0cc4c9"/>
<polygon class="a" points="262.3,126.9 270.8,134.4 282.6,132.0 274.2,124.7" fill="#02baae"/>
<polygon class="c" points="143.6,150.1 155.3,152.0 165.7,149.1 154.1,147.1" fill="#11b5d0"/>
<polygon class="c" points="364.4,145.2 374.9,147.8 384.3,145.3 373.9,142.8" fill="#0cc5c8"/>
<polygon class="c" points="240.7,143.5 251.9,145.8 261.9,143.2 250.8,140.9" fill="#09c2c4"/>
<polygon class="c" points="344.3,144.8 354.9,147.6 364.4,145.2 353.9,142.5" fill="#0cc5c8"/>
<polygon class="b" points="258.0,178.9 268.5,181.0 278.8,177.9 268.5,175.8" fill="#1981f1"/>
<polygon class="a" points="149.2,80.1 158.2,84.0 170.1,81.4 161.3,77.4" fill="#fcbc26"/>
<polygon class="c" points="324.0,144.3 334.8,147.2 344.3,144.8 333.7,142.0" fill="#0bc4c7"/>
<polygon class="c" points="261.9,143.2 272.9,145.8 282.8,143.3 271.8,140.8" fill="#09c2c4"/>
<polygon class="c" points="88.1,154.1 100.1,156.3 110.7,153.7 98.8,151.4" fill="#1ea5d7"/>
<polygon class="c" points="303.5,143.8 314.3,146.7 324.0,144.3 313.3,141.5" fill="#0ac4c6"/>
<polygon class="a" points="178.9,85.7 187.7,90.3 199.4,88.2 190.8,83.5" fill="#f9bc23"/>
<polygon class="c" points="282.8,143.3 293.7,146.2 303.5,143.8 292.7,141.0" fill="#09c3c5"/>
<polygon class="a" points="216.6,100.0 225.2,106.6 236.9,104.7 228.4,98.1" fill="#54d12e"/>
<polygon class="a" points="270.8,134.4 279.3,141.1 291.0,138.6 282.6,132.0" fill="#05bfbc"/>
<polygon class="b" points="125.5,193.2 137.1,187.8 148.5,183.8 137.1,182.0" fill="#1b77f4"/>
<polygon class="b" points="329.1,178.0 339.0,180.3 348.5,176.9 338.8,174.7" fill="#1884f0"/>
<polygon class="c" points="165.7,149.1 177.2,151.0 187.5,148.0 176.1,146.1" fill="#0fbdcc"/>
<polygon class="b" points="236.9,180.0 247.6,182.0 258.0,178.9 247.5,176.9" fill="#1980f1"/>
<polygon class="c" points="490.5,146.7 500.4,149.0 509.0,146.4 499.2,144.1" fill="#0dc3c9"/>
<polygon class="b" points="467.2,199.4 475.8,202.9 483.8,198.9 475.0,194.6" fill="#3b56fa"/>
<polygon class="b" points="78.3,186.0 90.3,188.2 102.1,185.5 90.3,181.0" fill="#1d72f5"/>
<polygon class="b" points="414.2,192.3 423.6,196.2 431.9,192.1 422.8,188.0" fill="#2c64f7"/>
<polygon class="b" points="386.6,187.4 396.1,192.2 404.9,187.9 395.5,183.1" fill="#236cf6"/>
<polygon class="b" points="215.4,181.0 226.2,183.0 236.9,180.0 226.2,178.0" fill="#197ef2"/>
<polygon class="b" points="441.1,195.7 450.2,199.6 458.2,195.1 449.3,191.6" fill="#325ef8"/>
<polygon class="b" points="358.2,181.1 367.9,186.6 377.1,182.3 367.5,176.8" fill="#1b78f4"/>
<polygon class="c" points="471.7,147.1 481.7,149.3 490.5,146.7 480.6,144.5" fill="#0dc3c9"/>
<polygon class="c" points="110.7,153.7 122.6,155.8 133.1,153.0 121.3,150.9" fill="#17aad5"/>
<polygon class="b" points="193.5,182.0 204.5,184.0 215.4,181.0 204.5,179.0" fill="#1a7df2"/>
<polygon class="a" points="279.3,141.1 287.8,147.8 299.3,145.2 291.0,138.6" fill="#0cc5c8"/>
<polygon class="a" points="225.2,106.6 233.8,113.5 245.4,111.5 236.9,104.7" fill="#11ca42"/>
<polygon class="a" points="127.8,79.6 137.1,83.2 149.2,80.1 140.1,76.3" fill="#fcbd27"/>
<polygon class="a" points="105.7,84.4 115.5,86.9 127.8,79.6 118.4,76.5" fill="#fcbd27"/>
<polygon class="a" points="93.0,101.7 103.2,103.3 115.5,86.9 105.7,84.4" fill="#fcbb26"/>
<polygon class="b" points="171.2,182.9 182.4,184.9 193.5,182.0 182.4,180.0" fill="#1a7bf3"/>
<polygon class="b" points="148.5,183.8 160.0,185.8 171.2,182.9 160.0,180.9" fill="#1b79f3"/>
<polygon class="a" points="42.3,143.8 53.6,147.6 66.2,142.4 55.0,139.4" fill="#06c0c0"/>
<polygon class="c" points="187.5,148.0 199.0,150.0 209.2,147.1 197.8,145.1" fill="#0cc4c8"/>
<polygon class="b" points="309.2,179.1 319.3,181.4 329.1,178.0 319.1,175.8" fill="#1883f0"/>
<polygon class="c" points="452.8,147.4 462.9,149.7 471.7,147.1 461.7,144.8" fill="#0dc3c9"/>
<polygon class="a" points="187.7,90.3 196.5,95.6 208.0,93.7 199.4,88.2" fill="#ebc31c"/>
<polygon class="c" points="54.5,156.4 66.7,158.8 77.4,156.6 65.3,154.1" fill="#26a0da"/>
<polygon class="c" points="433.6,147.6 443.9,149.9 452.8,147.4 442.7,145.1" fill="#0dc3c9"/>
<polygon class="b" points="475.8,202.9 475.8,202.9 488.3,200.5 483.8,198.9" fill="#3c54fa"/>
<polygon class="a" points="158.2,84.0 167.3,88.1 178.9,85.7 170.1,81.4" fill="#fcbb26"/>
<polygon class="a" points="233.8,113.5 242.4,121.0 253.9,119.1 245.4,111.5" fill="#01c462"/>
<polygon class="a" points="78.6,133.1 89.6,134.1 101.6,123.2 91.0,123.6" fill="#00c36d"/>
<polygon class="c" points="209.2,147.1 220.6,149.1 230.6,146.3 219.4,144.2" fill="#0bc4c6"/>
<polygon class="a" points="287.8,147.8 296.3,154.4 307.7,151.7 299.3,145.2" fill="#14acd4"/>
<polygon class="c" points="133.1,153.0 144.9,154.9 155.3,152.0 143.6,150.1" fill="#13b1d2"/>
<polygon class="c" points="414.3,147.8 424.6,150.1 433.6,147.6 423.4,145.3" fill="#0dc3c9"/>
<polygon class="b" points="113.9,195.2 125.7,200.9 137.1,187.8 125.5,193.2" fill="#1c73f5"/>
<polygon class="b" points="289.1,180.1 299.4,182.4 309.2,179.1 299.1,176.8" fill="#1883f1"/>
<polygon class="c" points="394.7,147.8 405.1,150.3 414.3,147.8 404.0,145.4" fill="#0dc3c9"/>
<polygon class="a" points="242.4,121.0 251.0,129.0 262.3,126.9 253.9,119.1" fill="#00bd96"/>
<polygon class="c" points="230.6,146.3 241.9,148.6 251.9,145.8 240.7,143.5" fill="#09c3c5"/>
<polygon class="a" points="91.0,123.6 101.6,123.2 113.4,105.1 103.2,103.3" fill="#9bd122"/>
<polygon class="c" points="374.9,147.8 385.5,150.3 394.7,147.8 384.3,145.3" fill="#0cc4c9"/>
<polygon class="c" points="77.4,156.6 89.5,158.8 100.1,156.3 88.1,154.1" fill="#21a3d8"/>
<polygon class="b" points="396.1,192.2 405.6,196.5 414.2,192.3 404.9,187.9" fill="#2967f7"/>
<polygon class="b" points="367.9,186.6 377.6,191.7 386.6,187.4 377.1,182.3" fill="#1f70f5"/>
<polygon class="c" points="354.9,147.6 365.6,150.2 374.9,147.8 364.4,145.2" fill="#0cc5c8"/>
<polygon class="a" points="66.2,142.4 77.4,144.9 89.6,134.1 78.6,133.1" fill="#01bba6"/>
<polygon class="b" points="339.0,180.3 348.9,185.4 358.2,181.1 348.5,176.9" fill="#197ef2"/>
<polygon class="b" points="450.2,199.6 459.4,204.0 467.2,199.4 458.2,195.1" fill="#3958fa"/>
<polygon class="b" points="423.6,196.2 432.9,199.9 441.1,195.7 431.9,192.1" fill="#3061f8"/>
<polygon class="a" points="196.5,95.6 205.3,101.8 216.6,100.0 208.0,93.7" fill="#bbce1e"/>
<polygon class="c" points="334.8,147.2 345.5,150.0 354.9,147.6 344.3,144.8" fill="#0cc5c7"/>
<polygon class="c" points="251.9,145.8 263.0,148.4 272.9,145.8 261.9,143.2" fill="#09c3c4"/>
<polygon class="b" points="268.5,181.0 279.0,183.3 289.1,180.1 278.8,177.9" fill="#1982f1"/>
<polygon class="c" points="155.3,152.0 167.0,154.0 177.2,151.0 165.7,149.1" fill="#10b9ce"/>
<polygon class="a" points="251.0,129.0 259.7,136.7 270.8,134.4 262.3,126.9" fill="#02baad"/>
<polygon class="c" points="314.3,146.7 325.2,149.6 334.8,147.2 324.0,144.3" fill="#0bc4c7"/>
<polygon class="c" points="272.9,145.8 284.0,148.7 293.7,146.2 282.8,143.3" fill="#09c3c5"/>
<polygon class="c" points="293.7,146.2 304.7,149.1 314.3,146.7 303.5,143.8" fill="#0ac3c6"/>
<polygon class="a" points="137.1,83.2 146.5,87.1 158.2,84.0 149.2,80.1" fill="#fcbc26"/>
<polygon class="c" points="500.4,149.0 510.3,151.2 518.8,148.6 509.0,146.4" fill="#0dc3c9"/>
<polygon class="b" points="90.3,188.2 102.3,190.4 113.9,195.2 102.1,185.5" fill="#2f61f8"/>
<polygon class="b" points="247.6,182.0 258.2,184.2 268.5,181.0 258.0,178.9" fill="#1981f1"/>
<polygon class="a" points="115.5,86.9 125.3,89.9 137.1,83.2 127.8,79.6" fill="#fcbc27"/>
<polygon class="c" points="100.1,156.3 112.1,158.4 122.6,155.8 110.7,153.7" fill="#1ba7d6"/>
<polygon class="a" points="167.3,88.1 176.3,92.6 187.7,90.3 178.9,85.7" fill="#f9bc23"/>
<polygon class="a" points="259.7,136.7 268.3,143.6 279.3,141.1 270.8,134.4" fill="#05bebc"/>
<polygon class="c" points="481.7,149.3 491.8,151.6 500.4,149.0 490.5,146.7" fill="#0dc3c9"/>
<polygon class="c" points="177.2,151.0 188.8,152.9 199.0,150.0 187.5,148.0" fill="#0dc0ca"/>
<polygon class="a" points="205.3,101.8 214.1,108.4 225.2,106.6 216.6,100.0" fill="#66d22a"/>
<polygon class="b" points="226.2,183.0 237.1,185.1 247.6,182.0 236.9,180.0" fill="#197ff1"/>
<polygon class="a" points="103.2,103.3 113.4,105.1 125.3,89.9 115.5,86.9" fill="#fbbb25"/>
<polygon class="b" points="319.3,181.4 329.4,183.7 339.0,180.3 329.1,178.0" fill="#1883f0"/>
<polygon class="a" points="53.6,147.6 64.9,150.5 77.4,144.9 66.2,142.4" fill="#06c0c0"/>
<polygon class="c" points="462.9,149.7 473.0,152.0 481.7,149.3 471.7,147.1" fill="#0dc3c9"/>
<polygon class="b" points="204.5,184.0 215.6,186.1 226.2,183.0 215.4,181.0" fill="#1a7ef2"/>
<polygon class="b" points="137.1,187.8 148.7,188.8 160.0,185.8 148.5,183.8" fill="#1b78f4"/>
<polygon class="b" points="459.4,204.0 463.2,205.4 475.8,202.9 467.2,199.4" fill="#3c53f9"/>
<polygon class="b" points="182.4,184.9 193.7,187.0 204.5,184.0 193.5,182.0" fill="#1a7cf2"/>
<polygon class="b" points="377.6,191.7 387.4,196.4 396.1,192.2 386.6,187.4" fill="#266af6"/>
<polygon class="b" points="160.0,185.8 171.4,187.9 182.4,184.9 171.2,182.9" fill="#1a7af3"/>
<polygon class="c" points="122.6,155.8 134.5,157.7 144.9,154.9 133.1,153.0" fill="#14add4"/>
<polygon class="b" points="348.9,185.4 358.8,190.8 367.9,186.6 358.2,181.1" fill="#1c75f4"/>
<polygon class="a" points="268.3,143.6 276.9,150.4 287.8,147.8 279.3,141.1" fill="#0cc5c7"/>
<polygon class="c" points="199.0,150.0 210.5,152.0 220.6,149.1 209.2,147.1" fill="#0bc5c7"/>
<polygon class="c" points="443.9,149.9 454.1,152.2 462.9,149.7 452.8,147.4" fill="#0dc3c9"/>
<polygon class="b" points="405.6,196.5 415.2,200.2 423.6,196.2 414.2,192.3" fill="#2e63f8"/>
<polygon class="a" points="214.1,108.4 222.8,115.2 233.8,113.5 225.2,106.6" fill="#14ca3f"/>
<polygon class="b" points="432.9,199.9 442.2,204.3 450.2,199.6 441.1,195.7" fill="#365bf9"/>
<polygon class="c" points="424.6,150.1 434.9,152.5 443.9,149.9 433.6,147.6" fill="#0dc3c9"/>
<polygon class="b" points="299.4,182.4 309.6,184.7 319.3,181.4 309.2,179.1" fill="#1883f1"/>
<polygon class="a" points="146.5,87.1 155.9,91.1 167.3,88.1 158.2,84.0" fill="#fcbb26"/>
<polygon class="c" points="405.1,150.3 415.6,152.7 424.6,150.1 414.3,147.8" fill="#0dc3c9"/>
<polygon class="a" points="176.3,92.6 185.4,97.6 196.5,95.6 187.7,90.3" fill="#f0c01e"/>
<polygon class="c" points="220.6,149.1 231.9,151.4 241.9,148.6 230.6,146.3" fill="#0ac3c6"/>
<polygon class="c" points="66.7,158.8 78.9,161.1 89.5,158.8 77.4,156.6" fill="#23a2d9"/>
<polygon class="c" points="385.5,150.3 396.0,152.8 405.1,150.3 394.7,147.8" fill="#0dc3c9"/>
<polygon class="a" points="276.9,150.4 285.5,157.2 296.3,154.4 287.8,147.8" fill="#14acd4"/>
<polygon class="c" points="144.9,154.9 156.7,156.9 167.0,154.0 155.3,152.0" fill="#11b5d0"/>
<polygon class="c" points="510.3,151.2 515.1,152.3 526.0,150.2 518.8,148.6" fill="#0dc3c9"/>
<polygon class="a" points="222.8,115.2 231.6,122.8 242.4,121.0 233.8,113.5" fill="#03c55d"/>
<polygon class="c" points="365.6,150.2 376.2,152.8 385.5,150.3 374.9,147.8" fill="#0cc4c9"/>
<polygon class="a" points="89.6,134.1 100.6,135.1 112.2,122.8 101.6,123.2" fill="#05c659"/>
<polygon class="c" points="241.9,148.6 253.2,151.2 263.0,148.4 251.9,145.8" fill="#0ac3c5"/>
<polygon class="c" points="345.5,150.0 356.2,152.7 365.6,150.2 354.9,147.6" fill="#0cc5c8"/>
<polygon class="a" points="125.3,89.9 135.0,93.1 146.5,87.1 137.1,83.2" fill="#fcbc26"/>
<polygon class="b" points="279.0,183.3 289.5,185.7 299.4,182.4 289.1,180.1" fill="#1982f1"/>
<polygon class="c" points="325.2,149.6 336.0,152.4 345.5,150.0 334.8,147.2" fill="#0cc5c7"/>
<polygon class="c" points="263.0,148.4 274.2,151.3 284.0,148.7 272.9,145.8" fill="#0ac3c5"/>
<polygon class="a" points="101.6,123.2 112.2,122.8 123.6,107.1 113.4,105.1" fill="#a0d021"/>
<polygon class="c" points="304.7,149.1 315.6,152.1 325.2,149.6 314.3,146.7" fill="#0bc4c7"/>
<polygon class="c" points="284.0,148.7 295.0,151.6 304.7,149.1 293.7,146.2" fill="#0ac4c6"/>
<polygon class="b" points="102.3,190.4 114.3,192.5 125.7,200.9 113.9,195.2" fill="#375af9"/>
<polygon class="a" points="77.4,144.9 88.6,146.8 100.6,135.1 89.6,134.1" fill="#01bc9f"/>
<polygon class="c" points="89.5,158.8 101.6,160.9 112.1,158.4 100.1,156.3" fill="#1ea5d7"/>
<polygon class="a" points="231.6,122.8 240.4,130.9 251.0,129.0 242.4,121.0" fill="#00bd91"/>
<polygon class="b" points="358.8,190.8 368.7,195.9 377.6,191.7 367.9,186.6" fill="#226ef6"/>
<polygon class="b" points="329.4,183.7 339.5,189.6 348.9,185.4 339.0,180.3" fill="#1a7bf3"/>
<polygon class="c" points="167.0,154.0 178.6,155.9 188.8,152.9 177.2,151.0" fill="#0fbccc"/>
<polygon class="b" points="258.2,184.2 268.9,186.5 279.0,183.3 268.5,181.0" fill="#1981f1"/>
<polygon class="b" points="387.4,196.4 397.1,200.5 405.6,196.5 396.1,192.2" fill="#2b65f7"/>
<polygon class="a" points="185.4,97.6 194.4,103.5 205.3,101.8 196.5,95.6" fill="#c8cb1c"/>
<polygon class="c" points="491.8,151.6 501.8,153.9 510.3,151.2 500.4,149.0" fill="#0dc3c9"/>
<polygon class="b" points="125.7,200.9 137.5,193.9 148.7,188.8 137.1,187.8" fill="#1b78f4"/>
<polygon class="a" points="113.4,105.1 123.6,107.1 135.0,93.1 125.3,89.9" fill="#fabb24"/>
<polygon class="b" points="442.2,204.3 450.7,207.8 459.4,204.0 450.2,199.6" fill="#3c54fa"/>
<polygon class="a" points="240.4,130.9 249.2,138.8 259.7,136.7 251.0,129.0" fill="#02bbab"/>
<polygon class="b" points="415.2,200.2 424.7,204.2 432.9,199.9 423.6,196.2" fill="#325ef8"/>
<polygon class="b" points="237.1,185.1 248.0,187.4 258.2,184.2 247.6,182.0" fill="#1980f1"/>
<polygon class="a" points="155.9,91.1 165.3,95.5 176.3,92.6 167.3,88.1" fill="#fabc24"/>
<polygon class="c" points="473.0,152.0 483.1,154.2 491.8,151.6 481.7,149.3" fill="#0dc3c9"/>
<polygon class="c" points="112.1,158.4 124.1,160.4 134.5,157.7 122.6,155.8" fill="#17aad5"/>
<polygon class="c" points="188.8,152.9 200.4,155.0 210.5,152.0 199.0,150.0" fill="#0dc3c9"/>
<polygon class="a" points="64.9,150.5 76.2,152.3 88.6,146.8 77.4,144.9" fill="#06bfbe"/>
<polygon class="b" points="215.6,186.1 226.6,188.3 237.1,185.1 226.2,183.0" fill="#197ff2"/>
<polygon class="c" points="454.1,152.2 464.3,154.6 473.0,152.0 462.9,149.7" fill="#0dc3c9"/>
<polygon class="a" points="249.2,138.8 258.0,145.9 268.3,143.6 259.7,136.7" fill="#05bebb"/>
<polygon class="a" points="194.4,103.5 203.5,110.1 214.1,108.4 205.3,101.8" fill="#7dd425"/>
<polygon class="b" points="193.7,187.0 204.9,189.1 215.6,186.1 204.5,184.0" fill="#1a7df2"/>
<polygon class="c" points="434.9,152.5 445.2,154.8 454.1,152.2 443.9,149.9" fill="#0dc3c9"/>
<polygon class="b" points="309.6,184.7 319.9,187.9 329.4,183.7 319.3,181.4" fill="#1982f1"/>
<polygon class="b" points="171.4,187.9 182.8,190.0 193.7,187.0 182.4,184.9" fill="#1a7cf3"/>
<polygon class="b" points="148.7,188.8 160.4,190.9 171.4,187.9 160.0,185.8" fill="#1a7af3"/>
<polygon class="b" points="450.7,207.8 450.7,207.8 463.2,205.4 459.4,204.0" fill="#3d52f9"/>
<polygon class="c" points="210.5,152.0 221.9,154.3 231.9,151.4 220.6,149.1" fill="#0bc4c7"/>
<polygon class="a" points="135.0,93.1 144.8,96.6 155.9,91.1 146.5,87.1" fill="#fcbb26"/>
<polygon class="c" points="134.5,157.7 146.4,159.7 156.7,156.9 144.9,154.9" fill="#12b1d2"/>
<polygon class="c" points="415.6,152.7 426.0,155.0 434.9,152.5 424.6,150.1" fill="#0dc3c9"/>
<polygon class="b" points="339.5,189.6 349.6,195.0 358.8,190.8 348.9,185.4" fill="#1d72f5"/>
<polygon class="b" points="368.7,195.9 378.6,200.5 387.4,196.4 377.6,191.7" fill="#2868f7"/>
<polygon class="c" points="396.0,152.8 406.5,155.2 415.6,152.7 405.1,150.3" fill="#0dc3c9"/>
<polygon class="a" points="258.0,145.9 266.8,153.0 276.9,150.4 268.3,143.6" fill="#0bc4c7"/>
<polygon class="c" points="231.9,151.4 243.3,154.0 253.2,151.2 241.9,148.6" fill="#0ac4c6"/>
<polygon class="c" points="501.8,153.9 504.2,154.4 515.1,152.3 510.3,151.2" fill="#0dc3c9"/>
<polygon class="c" points="376.2,152.8 386.9,155.3 396.0,152.8 385.5,150.3" fill="#0dc3c9"/>
<polygon class="b" points="397.1,200.5 406.8,204.3 415.2,200.2 405.6,196.5" fill="#2f61f8"/>
<polygon class="c" points="356.2,152.7 367.0,155.3 376.2,152.8 365.6,150.2" fill="#0cc4c9"/>
<polygon class="b" points="289.5,185.7 299.9,188.0 309.6,184.7 299.4,182.4" fill="#1982f1"/>
<polygon class="a" points="203.5,110.1 212.5,117.0 222.8,115.2 214.1,108.4" fill="#17cb3c"/>
<polygon class="c" points="253.2,151.2 264.4,154.0 274.2,151.3 263.0,148.4" fill="#0ac3c5"/>
<polygon class="c" points="336.0,152.4 346.9,155.2 356.2,152.7 345.5,150.0" fill="#0cc5c8"/>
<polygon class="b" points="424.7,204.2 434.2,208.9 442.2,204.3 432.9,199.9" fill="#3a56fa"/>
<polygon class="a" points="165.3,95.5 174.7,100.2 185.4,97.6 176.3,92.6" fill="#f4be20"/>
<polygon class="c" points="78.9,161.1 91.1,163.2 101.6,160.9 89.5,158.8" fill="#1fa4d8"/>
<polygon class="c" points="315.6,152.1 326.6,154.9 336.0,152.4 325.2,149.6" fill="#0cc5c7"/>
<polygon class="c" points="274.2,151.3 285.4,154.2 295.0,151.6 284.0,148.7" fill="#0ac4c6"/>
<polygon class="c" points="295.0,151.6 306.1,154.6 315.6,152.1 304.7,149.1" fill="#0bc4c7"/>
<polygon class="c" points="156.7,156.9 168.4,158.8 178.6,155.9 167.0,154.0" fill="#10b9ce"/>
<polygon class="a" points="266.8,153.0 275.6,160.0 285.5,157.2 276.9,150.4" fill="#14add4"/>
<polygon class="a" points="112.2,122.8 122.8,122.7 133.8,109.4 123.6,107.1" fill="#a1d021"/>
<polygon class="a" points="100.6,135.1 111.6,136.0 122.8,122.7 112.2,122.8" fill="#0dc949"/>
<polygon class="a" points="123.6,107.1 133.8,109.4 144.8,96.6 135.0,93.1" fill="#f9bc23"/>
<polygon class="b" points="268.9,186.5 279.6,189.0 289.5,185.7 279.0,183.3" fill="#1981f1"/>
<polygon class="a" points="212.5,117.0 221.5,124.5 231.6,122.8 222.8,115.2" fill="#07c656"/>
<polygon class="a" points="88.6,146.8 99.8,148.1 111.6,136.0 100.6,135.1" fill="#00bd98"/>
<polygon class="c" points="101.6,160.9 113.7,162.9 124.1,160.4 112.1,158.4" fill="#19a8d6"/>
<polygon class="c" points="178.6,155.9 190.3,157.9 200.4,155.0 188.8,152.9" fill="#0ec0cb"/>
<polygon class="c" points="483.1,154.2 493.2,156.5 501.8,153.9 491.8,151.6" fill="#0dc3c9"/>
<polygon class="b" points="114.3,192.5 126.3,194.6 137.5,193.9 125.7,200.9" fill="#1e71f5"/>
<polygon class="b" points="319.9,187.9 330.2,193.6 339.5,189.6 329.4,183.7" fill="#1b78f3"/>
<polygon class="b" points="349.6,195.0 359.8,200.0 368.7,195.9 358.8,190.8" fill="#246cf6"/>
<polygon class="b" points="248.0,187.4 258.8,189.8 268.9,186.5 258.2,184.2" fill="#1980f1"/>
<polygon class="a" points="144.8,96.6 154.6,100.4 165.3,95.5 155.9,91.1" fill="#fabc24"/>
<polygon class="a" points="221.5,124.5 230.6,132.8 240.4,130.9 231.6,122.8" fill="#00bf88"/>
<polygon class="c" points="464.3,154.6 474.5,156.9 483.1,154.2 473.0,152.0" fill="#0dc3c9"/>
<polygon class="b" points="378.6,200.5 388.5,204.5 397.1,200.5 387.4,196.4" fill="#2d63f8"/>
<polygon class="a" points="174.7,100.2 184.1,105.6 194.4,103.5 185.4,97.6" fill="#d5c91b"/>
<polygon class="b" points="434.2,208.9 438.1,210.2 450.7,207.8 442.2,204.3" fill="#3d51f9"/>
<polygon class="c" points="200.4,155.0 212.0,157.2 221.9,154.3 210.5,152.0" fill="#0cc5c8"/>
<polygon class="b" points="226.6,188.3 237.7,190.6 248.0,187.4 237.1,185.1" fill="#197ff1"/>
<polygon class="c" points="445.2,154.8 455.6,157.2 464.3,154.6 454.1,152.2" fill="#0dc3c9"/>
<polygon class="c" points="124.1,160.4 136.1,162.3 146.4,159.7 134.5,157.7" fill="#13aed3"/>
<polygon class="b" points="406.8,204.3 416.5,208.9 424.7,204.2 415.2,200.2" fill="#365af9"/>
<polygon class="a" points="230.6,132.8 239.6,141.1 249.2,138.8 240.4,130.9" fill="#01bba8"/>
<polygon class="a" points="76.2,152.3 87.5,153.3 99.8,148.1 88.6,146.8" fill="#05bebb"/>
<polygon class="b" points="204.9,189.1 216.2,191.4 226.6,188.3 215.6,186.1" fill="#197ef2"/>
<polygon class="c" points="426.0,155.0 436.4,157.4 445.2,154.8 434.9,152.5" fill="#0dc3c9"/>
<polygon class="b" points="137.5,193.9 149.3,193.8 160.4,190.9 148.7,188.8" fill="#1b79f3"/>
<polygon class="c" points="221.9,154.3 233.4,156.8 243.3,154.0 231.9,151.4" fill="#0bc4c7"/>
<polygon class="b" points="182.8,190.0 194.3,192.2 204.9,189.1 193.7,187.0" fill="#1a7df2"/>
<polygon class="c" points="406.5,155.2 417.1,157.6 426.0,155.0 415.6,152.7" fill="#0dc3c9"/>
<polygon class="b" points="160.4,190.9 172.0,193.0 182.8,190.0 171.4,187.9" fill="#1a7bf3"/>
<polygon class="c" points="493.2,156.5 493.2,156.5 504.2,154.4 501.8,153.9" fill="#0dc3c9"/>
<polygon class="b" points="299.9,188.0 310.4,191.8 319.9,187.9 309.6,184.7" fill="#197ff1"/>
<polygon class="c" points="386.9,155.3 397.5,157.7 406.5,155.2 396.0,152.8" fill="#0dc3c9"/>
<polygon class="c" points="243.3,154.0 254.7,156.7 264.4,154.0 253.2,151.2" fill="#0bc4c6"/>
<polygon class="a" points="239.6,141.1 248.7,148.4 258.0,145.9 249.2,138.8" fill="#04bdb9"/>
<polygon class="c" points="367.0,155.3 377.7,157.8 386.9,155.3 376.2,152.8" fill="#0dc3c9"/>
<polygon class="c" points="146.4,159.7 158.3,161.6 168.4,158.8 156.7,156.9" fill="#11b5d0"/>
<polygon class="a" points="184.1,105.6 193.4,112.0 203.5,110.1 194.4,103.5" fill="#90d223"/>
<polygon class="c" points="346.9,155.2 357.7,157.8 367.0,155.3 356.2,152.7" fill="#0cc4c9"/>
<polygon class="c" points="264.4,154.0 275.7,156.9 285.4,154.2 274.2,151.3" fill="#0bc4c6"/>
<polygon class="c" points="326.6,154.9 337.5,157.7 346.9,155.2 336.0,152.4" fill="#0cc5c8"/>
<polygon class="b" points="330.2,193.6 340.5,199.0 349.6,195.0 339.5,189.6" fill="#1f70f6"/>
<polygon class="c" points="285.4,154.2 296.5,157.2 306.1,154.6 295.0,151.6" fill="#0bc4c7"/>
<polygon class="c" points="306.1,154.6 317.1,157.4 326.6,154.9 315.6,152.1" fill="#0cc5c8"/>
<polygon class="a" points="133.8,109.4 144.1,111.9 154.6,100.4 144.8,96.6" fill="#f8bc22"/>
<polygon class="b" points="359.8,200.0 369.8,204.4 378.6,200.5 368.7,195.9" fill="#2a66f7"/>
<polygon class="a" points="154.6,100.4 164.4,104.6 174.7,100.2 165.3,95.5" fill="#f6bd21"/>
<polygon class="a" points="248.7,148.4 257.7,155.8 266.8,153.0 258.0,145.9" fill="#0ac4c6"/>
<polygon class="b" points="279.6,189.0 290.2,191.4 299.9,188.0 289.5,185.7" fill="#1981f1"/>
<polygon class="c" points="91.1,163.2 103.3,165.3 113.7,162.9 101.6,160.9" fill="#1ba7d6"/>
<polygon class="c" points="168.4,158.8 180.2,160.8 190.3,157.9 178.6,155.9" fill="#0fbccc"/>
<polygon class="b" points="388.5,204.5 398.4,208.5 406.8,204.3 397.1,200.5" fill="#325ff8"/>
<polygon class="a" points="122.8,122.7 133.5,122.7 144.1,111.9 133.8,109.4" fill="#9ed021"/>
<polygon class="b" points="416.5,208.9 425.6,212.6 434.2,208.9 424.7,204.2" fill="#3d51f9"/>
<polygon class="a" points="193.4,112.0 202.8,118.9 212.5,117.0 203.5,110.1" fill="#27cc37"/>
<polygon class="a" points="111.6,136.0 122.6,136.9 133.5,122.7 122.8,122.7" fill="#13ca40"/>
<polygon class="c" points="474.5,156.9 482.3,158.6 493.2,156.5 483.1,154.2" fill="#0dc3c9"/>
<polygon class="b" points="258.8,189.8 269.7,192.2 279.6,189.0 268.9,186.5" fill="#1980f1"/>
<polygon class="a" points="99.8,148.1 111.1,149.3 122.6,136.9 111.6,136.0" fill="#00be8f"/>
<polygon class="c" points="190.3,157.9 202.0,160.2 212.0,157.2 200.4,155.0" fill="#0dc2ca"/>
<polygon class="a" points="257.7,155.8 266.8,163.1 275.6,160.0 266.8,153.0" fill="#13aed3"/>
<polygon class="c" points="113.7,162.9 125.8,164.9 136.1,162.3 124.1,160.4" fill="#15acd4"/>
<polygon class="c" points="455.6,157.2 465.9,159.5 474.5,156.9 464.3,154.6" fill="#0dc3c9"/>
<polygon class="b" points="310.4,191.8 320.9,197.5 330.2,193.6 319.9,187.9" fill="#1b76f4"/>
<polygon class="b" points="237.7,190.6 248.7,193.0 258.8,189.8 248.0,187.4" fill="#1980f1"/>
<polygon class="b" points="340.5,199.0 350.8,203.9 359.8,200.0 349.6,195.0" fill="#2669f7"/>
<polygon class="a" points="202.8,118.9 212.2,126.3 221.5,124.5 212.5,117.0" fill="#0ac84e"/>
<polygon class="c" points="212.0,157.2 223.5,159.7 233.4,156.8 221.9,154.3" fill="#0cc5c8"/>
<polygon class="c" points="436.4,157.4 446.8,159.8 455.6,157.2 445.2,154.8" fill="#0dc3c9"/>
<polygon class="b" points="425.6,212.6 425.6,212.6 438.1,210.2 434.2,208.9" fill="#3e50f8"/>
<polygon class="a" points="164.4,104.6 174.1,109.3 184.1,105.6 174.7,100.2" fill="#e1c619"/>
<polygon class="b" points="216.2,191.4 227.4,193.8 237.7,190.6 226.6,188.3" fill="#197ff2"/>
<polygon class="c" points="417.1,157.6 427.6,160.0 436.4,157.4 426.0,155.0" fill="#0dc3c9"/>
<polygon class="c" points="482.3,158.6 482.3,158.6 493.2,156.5 493.2,156.5" fill="#0dc3c9"/>
<polygon class="b" points="369.8,204.4 379.9,208.4 388.5,204.5 378.6,200.5" fill="#2f62f8"/>
<polygon class="c" points="136.1,162.3 148.1,164.3 158.3,161.6 146.4,159.7" fill="#12b2d1"/>
<polygon class="a" points="144.1,111.9 154.3,115.3 164.4,104.6 154.6,100.4" fill="#eec11d"/>
<polygon class="c" points="233.4,156.8 244.9,159.5 254.7,156.7 243.3,154.0" fill="#0bc4c7"/>
<polygon class="b" points="126.3,194.6 138.3,196.8 149.3,193.8 137.5,193.9" fill="#1b79f3"/>
<polygon class="c" points="397.5,157.7 408.1,160.2 417.1,157.6 406.5,155.2" fill="#0dc3c9"/>
<polygon class="b" points="194.3,192.2 205.7,194.5 216.2,191.4 204.9,189.1" fill="#1a7ef2"/>
<polygon class="a" points="87.5,153.3 98.8,154.1 111.1,149.3 99.8,148.1" fill="#04bdb7"/>
<polygon class="c" points="377.7,157.8 388.4,160.3 397.5,157.7 386.9,155.3" fill="#0dc3c9"/>
<polygon class="a" points="212.2,126.3 221.6,134.6 230.6,132.8 221.5,124.5" fill="#00c07d"/>
<polygon class="b" points="172.0,193.0 183.6,195.3 194.3,192.2 182.8,190.0" fill="#1a7cf2"/>
<polygon class="c" points="254.7,156.7 266.0,159.6 275.7,156.9 264.4,154.0" fill="#0bc4c7"/>
<polygon class="b" points="398.4,208.5 408.3,213.3 416.5,208.9 406.8,204.3" fill="#3c55fa"/>
<polygon class="b" points="149.3,193.8 161.1,196.0 172.0,193.0 160.4,190.9" fill="#1a7af3"/>
<polygon class="c" points="357.7,157.8 368.6,160.3 377.7,157.8 367.0,155.3" fill="#0dc3c9"/>
<polygon class="c" points="275.7,156.9 286.9,159.8 296.5,157.2 285.4,154.2" fill="#0bc5c7"/>
<polygon class="c" points="337.5,157.7 348.5,160.3 357.7,157.8 346.9,155.2" fill="#0cc4c9"/>
<polygon class="c" points="317.1,157.4 328.2,160.2 337.5,157.7 326.6,154.9" fill="#0cc5c8"/>
<polygon class="c" points="296.5,157.2 307.7,160.0 317.1,157.4 306.1,154.6" fill="#0cc5c8"/>
<polygon class="b" points="290.2,191.4 300.9,195.3 310.4,191.8 299.9,188.0" fill="#1a7df2"/>
<polygon class="c" points="158.3,161.6 170.1,163.6 180.2,160.8 168.4,158.8" fill="#10b9ce"/>
<polygon class="a" points="221.6,134.6 231.0,143.3 239.6,141.1 230.6,132.8" fill="#01bba4"/>
<polygon class="a" points="133.5,122.7 144.1,125.7 154.3,115.3 144.1,111.9" fill="#8ad224"/>
<polygon class="b" points="320.9,197.5 331.4,202.9 340.5,199.0 330.2,193.6" fill="#216ef6"/>
<polygon class="a" points="174.1,109.3 183.9,114.9 193.4,112.0 184.1,105.6" fill="#a5d021"/>
<polygon class="b" points="350.8,203.9 361.1,208.2 369.8,204.4 359.8,200.0" fill="#2c64f7"/>
<polygon class="c" points="465.9,159.5 471.4,160.7 482.3,158.6 474.5,156.9" fill="#0dc3c9"/>
<polygon class="a" points="231.0,143.3 240.3,150.9 248.7,148.4 239.6,141.1" fill="#04bdb7"/>
<polygon class="c" points="180.2,160.8 192.0,163.0 202.0,160.2 190.3,157.9" fill="#0ebecb"/>
<polygon class="c" points="103.3,165.3 115.5,167.2 125.8,164.9 113.7,162.9" fill="#16aad5"/>
<polygon class="b" points="269.7,192.2 280.5,194.7 290.2,191.4 279.6,189.0" fill="#1980f1"/>
<polygon class="a" points="122.6,136.9 133.5,139.4 144.1,125.7 133.5,122.7" fill="#12ca42"/>
<polygon class="b" points="408.3,213.3 413.0,215.0 425.6,212.6 416.5,208.9" fill="#3e4ef7"/>
<polygon class="b" points="379.9,208.4 390.0,212.9 398.4,208.5 388.5,204.5" fill="#365af9"/>
<polygon class="a" points="154.3,115.3 164.5,119.1 174.1,109.3 164.4,104.6" fill="#d9c81a"/>
<polygon class="a" points="111.1,149.3 122.3,150.7 133.5,139.4 122.6,136.9" fill="#00be8f"/>
<polygon class="c" points="202.0,160.2 213.7,162.5 223.5,159.7 212.0,157.2" fill="#0dc3c9"/>
<polygon class="b" points="248.7,193.0 259.8,195.5 269.7,192.2 258.8,189.8" fill="#1980f1"/>
<polygon class="c" points="446.8,159.8 457.3,162.1 465.9,159.5 455.6,157.2" fill="#0dc3c9"/>
<polygon class="c" points="125.8,164.9 137.9,166.8 148.1,164.3 136.1,162.3" fill="#13b0d2"/>
<polygon class="a" points="183.9,114.9 193.7,121.5 202.8,118.9 193.4,112.0" fill="#45cf31"/>
<polygon class="c" points="427.6,160.0 438.1,162.4 446.8,159.8 436.4,157.4" fill="#0dc3c9"/>
<polygon class="c" points="223.5,159.7 235.1,162.3 244.9,159.5 233.4,156.8" fill="#0cc5c8"/>
<polygon class="b" points="227.4,193.8 238.6,196.3 248.7,193.0 237.7,190.6" fill="#197ff2"/>
<polygon class="b" points="300.9,195.3 311.6,201.1 320.9,197.5 310.4,191.8" fill="#1c74f5"/>
<polygon class="c" points="408.1,160.2 418.8,162.6 427.6,160.0 417.1,157.6" fill="#0dc3c9"/>
<polygon class="c" points="244.9,159.5 256.4,162.3 266.0,159.6 254.7,156.7" fill="#0cc5c8"/>
<polygon class="c" points="388.4,160.3 399.2,162.7 408.1,160.2 397.5,157.7" fill="#0dc3c9"/>
<polygon class="b" points="331.4,202.9 341.9,207.7 350.8,203.9 340.5,199.0" fill="#2868f7"/>
<polygon class="b" points="205.7,194.5 217.1,197.0 227.4,193.8 216.2,191.4" fill="#197ef2"/>
<polygon class="c" points="266.0,159.6 277.4,162.4 286.9,159.8 275.7,156.9" fill="#0cc5c8"/>
<polygon class="c" points="368.6,160.3 379.4,162.8 388.4,160.3 377.7,157.8" fill="#0dc3c9"/>
<polygon class="c" points="348.5,160.3 359.4,162.8 368.6,160.3 357.7,157.8" fill="#0dc3c9"/>
<polygon class="c" points="286.9,159.8 298.2,162.6 307.7,160.0 296.5,157.2" fill="#0cc5c8"/>
<polygon class="c" points="148.1,164.3 160.1,166.3 170.1,163.6 158.3,161.6" fill="#11b6cf"/>
<polygon class="c" points="328.2,160.2 339.2,162.8 348.5,160.3 337.5,157.7" fill="#0cc4c9"/>
<polygon class="c" points="307.7,160.0 318.8,162.7 328.2,160.2 317.1,157.4" fill="#0cc4c8"/>
<polygon class="b" points="183.6,195.3 195.2,197.6 205.7,194.5 194.3,192.2" fill="#1a7df2"/>
<polygon class="b" points="138.3,196.8 150.3,199.0 161.1,196.0 149.3,193.8" fill="#1a7af3"/>
<polygon class="b" points="161.1,196.0 173.0,198.3 183.6,195.3 172.0,193.0" fill="#1a7cf3"/>
<polygon class="a" points="144.1,125.7 154.7,128.9 164.5,119.1 154.3,115.3" fill="#6ed328"/>
<polygon class="a" points="98.8,154.1 110.1,154.9 122.3,150.7 111.1,149.3" fill="#03bcb4"/>
<polygon class="b" points="361.1,208.2 371.4,212.3 379.9,208.4 369.8,204.4" fill="#3060f8"/>
<polygon class="a" points="193.7,121.5 203.5,128.5 212.2,126.3 202.8,118.9" fill="#0fc945"/>
<polygon class="b" points="390.0,212.9 400.1,217.3 408.3,213.3 398.4,208.5" fill="#3e4ef8"/>
<polygon class="a" points="164.5,119.1 174.7,123.4 183.9,114.9 174.1,109.3" fill="#aacf20"/>
<polygon class="c" points="170.1,163.6 182.0,165.7 192.0,163.0 180.2,160.8" fill="#0fbbcd"/>
<polygon class="c" points="457.3,162.1 460.5,162.9 471.4,160.7 465.9,159.5" fill="#0dc3c9"/>
<polygon class="b" points="280.5,194.7 291.4,198.5 300.9,195.3 290.2,191.4" fill="#1a7cf2"/>
<polygon class="a" points="203.5,128.5 213.3,136.7 221.6,134.6 212.2,126.3" fill="#00c26f"/>
<polygon class="a" points="133.5,139.4 144.5,141.8 154.7,128.9 144.1,125.7" fill="#10c944"/>
<polygon class="b" points="311.6,201.1 322.2,206.4 331.4,202.9 320.9,197.5" fill="#236cf6"/>
<polygon class="c" points="192.0,163.0 203.8,165.3 213.7,162.5 202.0,160.2" fill="#0ec0ca"/>
<polygon class="c" points="115.5,167.2 127.7,169.2 137.9,166.8 125.8,164.9" fill="#13aed3"/>
<polygon class="b" points="341.9,207.7 352.3,211.9 361.1,208.2 350.8,203.9" fill="#2d63f8"/>
<polygon class="b" points="259.8,195.5 270.8,198.0 280.5,194.7 269.7,192.2" fill="#1980f1"/>
<polygon class="a" points="213.3,136.7 223.0,145.5 231.0,143.3 221.6,134.6" fill="#01bc9f"/>
<polygon class="a" points="122.3,150.7 133.5,152.1 144.5,141.8 133.5,139.4" fill="#00be8f"/>
<polygon class="c" points="213.7,162.5 225.3,165.1 235.1,162.3 223.5,159.7" fill="#0dc3c9"/>
<polygon class="b" points="400.1,217.3 400.4,217.4 413.0,215.0 408.3,213.3" fill="#3f4bf6"/>
<polygon class="c" points="438.1,162.4 448.6,164.8 457.3,162.1 446.8,159.8" fill="#0dc3c9"/>
<polygon class="c" points="235.1,162.3 246.7,165.0 256.4,162.3 244.9,159.5" fill="#0cc4c8"/>
<polygon class="c" points="418.8,162.6 429.4,165.0 438.1,162.4 427.6,160.0" fill="#0dc3c9"/>
<polygon class="b" points="371.4,212.3 381.7,217.3 390.0,212.9 379.9,208.4" fill="#3c54fa"/>
<polygon class="b" points="238.6,196.3 249.9,198.8 259.8,195.5 248.7,193.0" fill="#197ff2"/>
<polygon class="a" points="174.7,123.4 184.9,128.5 193.7,121.5 183.9,114.9" fill="#55d12d"/>
<polygon class="c" points="399.2,162.7 409.9,165.2 418.8,162.6 408.1,160.2" fill="#0dc3c9"/>
<polygon class="a" points="223.0,145.5 232.8,153.5 240.3,150.9 231.0,143.3" fill="#03bcb4"/>
<polygon class="c" points="137.9,166.8 150.0,168.8 160.1,166.3 148.1,164.3" fill="#12b4d0"/>
<polygon class="c" points="256.4,162.3 267.8,165.0 277.4,162.4 266.0,159.6" fill="#0cc4c8"/>
<polygon class="a" points="154.7,128.9 165.3,132.3 174.7,123.4 164.5,119.1" fill="#40cf32"/>
<polygon class="c" points="379.4,162.8 390.3,165.3 399.2,162.7 388.4,160.3" fill="#0dc3c9"/>
<polygon class="c" points="277.4,162.4 288.8,165.1 298.2,162.6 286.9,159.8" fill="#0cc4c8"/>
<polygon class="c" points="359.4,162.8 370.4,165.4 379.4,162.8 368.6,160.3" fill="#0dc3c9"/>
<polygon class="b" points="217.1,197.0 228.6,199.5 238.6,196.3 227.4,193.8" fill="#197ef2"/>
<polygon class="c" points="298.2,162.6 309.5,165.3 318.8,162.7 307.7,160.0" fill="#0cc4c9"/>
<polygon class="c" points="339.2,162.8 350.3,165.4 359.4,162.8 348.5,160.3" fill="#0dc3c9"/>
<polygon class="c" points="318.8,162.7 330.0,165.3 339.2,162.8 328.2,160.2" fill="#0cc3c9"/>
<polygon class="b" points="291.4,198.5 302.2,204.2 311.6,201.1 300.9,195.3" fill="#1c73f5"/>
<polygon class="b" points="195.2,197.6 206.9,200.2 217.1,197.0 205.7,194.5" fill="#1a7df2"/>
<polygon class="c" points="160.1,166.3 172.1,168.4 182.0,165.7 170.1,163.6" fill="#10b9ce"/>
<polygon class="b" points="173.0,198.3 184.8,200.8 195.2,197.6 183.6,195.3" fill="#1a7cf2"/>
<polygon class="b" points="322.2,206.4 332.9,211.0 341.9,207.7 331.4,202.9" fill="#2966f7"/>
<polygon class="b" points="150.3,199.0 162.3,201.4 173.0,198.3 161.1,196.0" fill="#1a7bf3"/>
<polygon class="a" points="110.1,154.9 121.4,155.5 133.5,152.1 122.3,150.7" fill="#02bab1"/>
<polygon class="c" points="448.6,164.8 449.6,165.0 460.5,162.9 457.3,162.1" fill="#0dc3c9"/>
<polygon class="a" points="184.9,128.5 195.1,134.5 203.5,128.5 193.7,121.5" fill="#12ca42"/>
<polygon class="a" points="144.5,141.8 155.5,144.4 165.3,132.3 154.7,128.9" fill="#0dc849"/>
<polygon class="b" points="352.3,211.9 362.8,216.3 371.4,212.3 361.1,208.2" fill="#355cf9"/>
<polygon class="c" points="182.0,165.7 193.9,168.0 203.8,165.3 192.0,163.0" fill="#0ebdcc"/>
<polygon class="b" points="381.7,217.3 387.9,219.7 400.1,217.3 390.0,212.9" fill="#4048f5"/>
<polygon class="c" points="203.8,165.3 215.6,167.8 225.3,165.1 213.7,162.5" fill="#0dc1ca"/>
<polygon class="b" points="270.8,198.0 281.9,201.0 291.4,198.5 280.5,194.7" fill="#1a7cf2"/>
<polygon class="a" points="165.3,132.3 176.0,136.3 184.9,128.5 174.7,123.4" fill="#15ca3e"/>
<polygon class="a" points="133.5,152.1 144.7,153.5 155.5,144.4 144.5,141.8" fill="#00be90"/>
<polygon class="c" points="225.3,165.1 237.0,167.6 246.7,165.0 235.1,162.3" fill="#0dc2c9"/>
<polygon class="c" points="429.4,165.0 438.7,167.1 448.6,164.8 438.1,162.4" fill="#0dc3c9"/>
<polygon class="b" points="387.9,219.7 387.9,219.7 400.4,217.4 400.1,217.3" fill="#4048f5"/>
<polygon class="b" points="302.2,204.2 313.1,209.4 322.2,206.4 311.6,201.1" fill="#246cf6"/>
<polygon class="a" points="195.1,134.5 205.3,141.1 213.3,136.7 203.5,128.5" fill="#01c463"/>
<polygon class="c" points="127.7,169.2 139.9,171.2 150.0,168.8 137.9,166.8" fill="#12b2d1"/>
<polygon class="c" points="246.7,165.0 258.3,167.6 267.8,165.0 256.4,162.3" fill="#0dc3c9"/>
<polygon class="b" points="249.9,198.8 261.1,201.4 270.8,198.0 259.8,195.5" fill="#197ff2"/>
<polygon class="c" points="409.9,165.2 420.7,167.6 429.4,165.0 418.8,162.6" fill="#0dc3c9"/>
<polygon class="c" points="390.3,165.3 401.1,167.7 409.9,165.2 399.2,162.7" fill="#0dc3c9"/>
<polygon class="c" points="267.8,165.0 279.3,167.7 288.8,165.1 277.4,162.4" fill="#0cc3c9"/>
<polygon class="b" points="332.9,211.0 343.6,215.2 352.3,211.9 341.9,207.7" fill="#2e62f8"/>
<polygon class="c" points="370.4,165.4 381.3,167.8 390.3,165.3 379.4,162.8" fill="#0dc3c9"/>
<polygon class="c" points="288.8,165.1 300.1,167.8 309.5,165.3 298.2,162.6" fill="#0dc3c9"/>
<polygon class="c" points="350.3,165.4 361.3,167.9 370.4,165.4 359.4,162.8" fill="#0dc3c9"/>
<polygon class="c" points="309.5,165.3 320.7,167.9 330.0,165.3 318.8,162.7" fill="#0dc3c9"/>
<polygon class="c" points="330.0,165.3 341.1,167.9 350.3,165.4 339.2,162.8" fill="#0dc3c9"/>
<polygon class="b" points="228.6,199.5 240.0,202.1 249.9,198.8 238.6,196.3" fill="#197ef2"/>
<polygon class="c" points="150.0,168.8 162.1,170.9 172.1,168.4 160.1,166.3" fill="#10b7cf"/>
<polygon class="b" points="362.8,216.3 373.3,221.2 381.7,217.3 371.4,212.3" fill="#3f4cf7"/>
<polygon class="a" points="205.3,141.1 215.5,148.8 223.0,145.5 213.3,136.7" fill="#00bc99"/>
<polygon class="b" points="206.9,200.2 218.5,202.8 228.6,199.5 217.1,197.0" fill="#1a7df2"/>
<polygon class="c" points="438.7,167.1 438.7,167.1 449.6,165.0 448.6,164.8" fill="#0dc3c9"/>
<polygon class="b" points="184.8,200.8 196.6,203.4 206.9,200.2 195.2,197.6" fill="#1a7cf2"/>
<polygon class="a" points="155.5,144.4 166.5,147.1 176.0,136.3 165.3,132.3" fill="#08c753"/>
<polygon class="c" points="172.1,168.4 184.0,170.6 193.9,168.0 182.0,165.7" fill="#0fbbcd"/>
<polygon class="b" points="162.3,201.4 174.3,203.9 184.8,200.8 173.0,198.3" fill="#1a7cf3"/>
<polygon class="a" points="176.0,136.3 186.6,141.0 195.1,134.5 184.9,128.5" fill="#0ac84e"/>
<polygon class="b" points="281.9,201.0 292.9,206.7 302.2,204.2 291.4,198.5" fill="#1c73f5"/>
<polygon class="a" points="215.5,148.8 225.7,156.2 232.8,153.5 223.0,145.5" fill="#02bbb2"/>
<polygon class="a" points="121.4,155.5 132.7,156.2 144.7,153.5 133.5,152.1" fill="#02baac"/>
<polygon class="b" points="313.1,209.4 324.0,213.9 332.9,211.0 322.2,206.4" fill="#2a66f7"/>
<polygon class="c" points="193.9,168.0 205.8,170.4 215.6,167.8 203.8,165.3" fill="#0ebfcb"/>
<polygon class="b" points="373.3,221.2 375.3,221.9 387.9,219.7 381.7,217.3" fill="#4145f4"/>
<polygon class="c" points="215.6,167.8 227.4,170.3 237.0,167.6 225.3,165.1" fill="#0dc1ca"/>
<polygon class="b" points="343.6,215.2 354.3,220.2 362.8,216.3 352.3,211.9" fill="#3c55fa"/>
<polygon class="c" points="420.7,167.6 427.7,169.2 438.7,167.1 429.4,165.0" fill="#0dc3c9"/>
<polygon class="a" points="144.7,153.5 155.9,155.1 166.5,147.1 155.5,144.4" fill="#00bd92"/>
<polygon class="c" points="237.0,167.6 248.7,170.2 258.3,167.6 246.7,165.0" fill="#0dc2c9"/>
<polygon class="b" points="261.1,201.4 272.4,203.9 281.9,201.0 270.8,198.0" fill="#1a7ef2"/>
<polygon class="c" points="258.3,167.6 269.8,170.3 279.3,167.7 267.8,165.0" fill="#0dc3c9"/>
<polygon class="c" points="401.1,167.7 411.9,170.2 420.7,167.6 409.9,165.2" fill="#0dc3c9"/>
<polygon class="c" points="279.3,167.7 290.8,170.4 300.1,167.8 288.8,165.1" fill="#0dc3c9"/>
<polygon class="c" points="381.3,167.8 392.3,170.3 401.1,167.7 390.3,165.3" fill="#0dc3c9"/>
<polygon class="a" points="186.6,141.0 197.2,146.3 205.3,141.1 195.1,134.5" fill="#00c36b"/>
<polygon class="c" points="139.9,171.2 152.1,173.3 162.1,170.9 150.0,168.8" fill="#11b6cf"/>
<polygon class="c" points="300.1,167.8 311.5,170.4 320.7,167.9 309.5,165.3" fill="#0dc3c9"/>
<polygon class="c" points="361.3,167.9 372.4,170.4 381.3,167.8 370.4,165.4" fill="#0dc3c9"/>
<polygon class="c" points="320.7,167.9 332.0,170.5 341.1,167.9 330.0,165.3" fill="#0dc3c9"/>
<polygon class="c" points="341.1,167.9 352.3,170.5 361.3,167.9 350.3,165.4" fill="#0dc3c9"/>
<polygon class="b" points="240.0,202.1 251.4,204.7 261.1,201.4 249.9,198.8" fill="#197ef2"/>
<polygon class="b" points="292.9,206.7 304.0,211.8 313.1,209.4 302.2,204.2" fill="#236cf6"/>
<polygon class="a" points="166.5,147.1 177.4,150.2 186.6,141.0 176.0,136.3" fill="#01c461"/>
<polygon class="b" points="218.5,202.8 230.1,205.4 240.0,202.1 228.6,199.5" fill="#1a7df2"/>
<polygon class="c" points="162.1,170.9 174.2,173.1 184.0,170.6 172.1,168.4" fill="#10bacd"/>
<polygon class="b" points="324.0,213.9 334.8,218.3 343.6,215.2 332.9,211.0" fill="#2f61f8"/>
<polygon class="b" points="196.6,203.4 208.4,206.0 218.5,202.8 206.9,200.2" fill="#1a7df2"/>
<polygon class="b" points="354.3,220.2 362.8,223.7 373.3,221.2 362.8,216.3" fill="#4144f4"/>
<polygon class="b" points="174.3,203.9 186.3,206.6 196.6,203.4 184.8,200.8" fill="#1a7cf2"/>
<polygon class="c" points="184.0,170.6 196.0,172.9 205.8,170.4 193.9,168.0" fill="#0fbdcc"/>
<polygon class="a" points="197.2,146.3 207.8,152.5 215.5,148.8 205.3,141.1" fill="#00bd98"/>
<polygon class="c" points="205.8,170.4 217.7,172.8 227.4,170.3 215.6,167.8" fill="#0ebfcb"/>
<polygon class="a" points="132.7,156.2 144.0,157.4 155.9,155.1 144.7,153.5" fill="#01bba8"/>
<polygon class="c" points="411.9,170.2 416.8,171.3 427.7,169.2 420.7,167.6" fill="#0dc3c9"/>
<polygon class="b" points="272.4,203.9 283.6,208.5 292.9,206.7 281.9,201.0" fill="#1c75f5"/>
<polygon class="b" points="362.8,223.7 362.8,223.7 375.3,221.9 373.3,221.2" fill="#4242f3"/>
<polygon class="c" points="227.4,170.3 239.1,172.8 248.7,170.2 237.0,167.6" fill="#0dc1ca"/>
<polygon class="a" points="155.9,155.1 167.1,156.8 177.4,150.2 166.5,147.1" fill="#00bd95"/>
<polygon class="b" points="304.0,211.8 315.0,216.2 324.0,213.9 313.1,209.4" fill="#2967f7"/>
<polygon class="c" points="248.7,170.2 260.4,172.8 269.8,170.3 258.3,167.6" fill="#0dc2c9"/>
<polygon class="c" points="269.8,170.3 281.4,172.9 290.8,170.4 279.3,167.7" fill="#0dc2c9"/>
<polygon class="c" points="392.3,170.3 403.2,172.8 411.9,170.2 401.1,167.7" fill="#0dc3c9"/>
<polygon class="a" points="177.4,150.2 188.4,153.5 197.2,146.3 186.6,141.0" fill="#00c17b"/>
<polygon class="a" points="207.8,152.5 218.5,158.8 225.7,156.2 215.5,148.8" fill="#02baae"/>
<polygon class="c" points="290.8,170.4 302.2,172.9 311.5,170.4 300.1,167.8" fill="#0dc3c9"/>
<polygon class="c" points="372.4,170.4 383.4,172.9 392.3,170.3 381.3,167.8" fill="#0dc3c9"/>
<polygon class="b" points="334.8,218.3 345.7,223.5 354.3,220.2 343.6,215.2" fill="#3e4df7"/>
<polygon class="c" points="311.5,170.4 322.8,173.0 332.0,170.5 320.7,167.9" fill="#0dc3c9"/>
<polygon class="c" points="352.3,170.5 363.4,173.0 372.4,170.4 361.3,167.9" fill="#0dc3c9"/>
<polygon class="c" points="332.0,170.5 343.3,173.0 352.3,170.5 341.1,167.9" fill="#0dc3c9"/>
<polygon class="b" points="251.4,204.7 262.8,207.3 272.4,203.9 261.1,201.4" fill="#197ef2"/>
<polygon class="c" points="152.1,173.3 164.3,175.5 174.2,173.1 162.1,170.9" fill="#10b9ce"/>
<polygon class="b" points="230.1,205.4 241.7,208.0 251.4,204.7 240.0,202.1" fill="#1a7df2"/>
<polygon class="c" points="174.2,173.1 186.3,175.4 196.0,172.9 184.0,170.6" fill="#0fbccc"/>
<polygon class="b" points="208.4,206.0 220.2,208.7 230.1,205.4 218.5,202.8" fill="#1a7df2"/>
<polygon class="b" points="283.6,208.5 294.8,213.5 304.0,211.8 292.9,206.7" fill="#216ef6"/>
<polygon class="b" points="186.3,206.6 198.3,209.3 208.4,206.0 196.6,203.4" fill="#1a7cf2"/>
<polygon class="c" points="196.0,172.9 208.0,175.4 217.7,172.8 205.8,170.4" fill="#0ebecb"/>
<polygon class="b" points="345.7,223.5 350.2,225.2 362.8,223.7 354.3,220.2" fill="#4240f2"/>
<polygon class="c" points="403.2,172.8 405.9,173.4 416.8,171.3 411.9,170.2" fill="#0dc3c9"/>
<polygon class="b" points="315.0,216.2 326.1,221.0 334.8,218.3 324.0,213.9" fill="#345cf9"/>
<polygon class="c" points="217.7,172.8 229.6,175.3 239.1,172.8 227.4,170.3" fill="#0ec0ca"/>
<polygon class="a" points="188.4,153.5 199.4,157.1 207.8,152.5 197.2,146.3" fill="#00bc99"/>
<polygon class="a" points="144.0,157.4 155.3,158.8 167.1,156.8 155.9,155.1" fill="#01bba5"/>
<polygon class="c" points="239.1,172.8 250.9,175.4 260.4,172.8 248.7,170.2" fill="#0dc1ca"/>
<polygon class="a" points="167.1,156.8 178.4,158.5 188.4,153.5 177.4,150.2" fill="#00bc99"/>
<polygon class="c" points="260.4,172.8 272.1,175.4 281.4,172.9 269.8,170.3" fill="#0dc2c9"/>
<polygon class="c" points="281.4,172.9 293.0,175.5 302.2,172.9 290.8,170.4" fill="#0dc2c9"/>
<polygon class="c" points="383.4,172.9 394.5,175.4 403.2,172.8 392.3,170.3" fill="#0dc3c9"/>
<polygon class="c" points="302.2,172.9 313.7,175.5 322.8,173.0 311.5,170.4" fill="#0dc3c9"/>
<polygon class="c" points="363.4,173.0 374.6,175.5 383.4,172.9 372.4,170.4" fill="#0dc3c9"/>
<polygon class="c" points="322.8,173.0 334.2,175.5 343.3,173.0 332.0,170.5" fill="#0dc3c9"/>
<polygon class="c" points="343.3,173.0 354.5,175.5 363.4,173.0 352.3,170.5" fill="#0dc3c9"/>
<polygon class="b" points="262.8,207.3 274.3,210.0 283.6,208.5 272.4,203.9" fill="#1b78f4"/>
<polygon class="b" points="294.8,213.5 306.1,217.9 315.0,216.2 304.0,211.8" fill="#2669f7"/>
<polygon class="c" points="164.3,175.5 176.5,177.8 186.3,175.4 174.2,173.1" fill="#0fbbcd"/>
<polygon class="b" points="241.7,208.0 253.3,210.7 262.8,207.3 251.4,204.7" fill="#1a7df2"/>
<polygon class="b" points="326.1,221.0 337.1,225.9 345.7,223.5 334.8,218.3" fill="#4145f4"/>
<polygon class="a" points="199.4,157.1 210.4,160.9 218.5,158.8 207.8,152.5" fill="#02bba9"/>
<polygon class="b" points="220.2,208.7 232.0,211.4 241.7,208.0 230.1,205.4" fill="#1a7df2"/>
<polygon class="c" points="186.3,175.4 198.4,177.8 208.0,175.4 196.0,172.9" fill="#0ebecb"/>
<polygon class="c" points="394.5,175.4 395.0,175.5 405.9,173.4 403.2,172.8" fill="#0dc3c9"/>
<polygon class="b" points="198.3,209.3 210.3,212.0 220.2,208.7 208.4,206.0" fill="#1a7cf2"/>
<polygon class="c" points="208.0,175.4 220.0,177.8 229.6,175.3 217.7,172.8" fill="#0ec0cb"/>
<polygon class="c" points="229.6,175.3 241.5,177.9 250.9,175.4 239.1,172.8" fill="#0dc1ca"/>
<polygon class="a" points="178.4,158.5 189.6,160.2 199.4,157.1 188.4,153.5" fill="#01bc9e"/>
<polygon class="b" points="337.1,225.9 337.7,226.0 350.2,225.2 345.7,223.5" fill="#433ff2"/>
<polygon class="a" points="155.3,158.8 166.6,160.3 178.4,158.5 167.1,156.8" fill="#01bca1"/>
<polygon class="c" points="250.9,175.4 262.7,177.9 272.1,175.4 260.4,172.8" fill="#0dc2ca"/>
<polygon class="b" points="274.3,210.0 285.7,214.8 294.8,213.5 283.6,208.5" fill="#1e72f5"/>
<polygon class="c" points="272.1,175.4 283.7,178.0 293.0,175.5 281.4,172.9" fill="#0dc2c9"/>
<polygon class="c" points="374.6,175.5 384.1,177.6 394.5,175.4 383.4,172.9" fill="#0dc3c9"/>
<polygon class="c" points="293.0,175.5 304.6,178.1 313.7,175.5 302.2,172.9" fill="#0dc2c9"/>
<polygon class="b" points="306.1,217.9 317.3,223.2 326.1,221.0 315.0,216.2" fill="#3a57fa"/>
<polygon class="c" points="313.7,175.5 325.2,178.1 334.2,175.5 322.8,173.0" fill="#0dc3c9"/>
<polygon class="c" points="354.5,175.5 365.8,178.1 374.6,175.5 363.4,173.0" fill="#0dc3c9"/>
<polygon class="c" points="334.2,175.5 345.6,178.1 354.5,175.5 343.3,173.0" fill="#0dc3c9"/>
<polygon class="b" points="253.3,210.7 264.9,213.3 274.3,210.0 262.8,207.3" fill="#1a7df2"/>
<polygon class="c" points="176.5,177.8 188.7,180.2 198.4,177.8 186.3,175.4" fill="#0ebdcc"/>
<polygon class="c" points="384.1,177.6 384.1,177.6 395.0,175.5 394.5,175.4" fill="#0dc3c9"/>
<polygon class="b" points="232.0,211.4 243.8,214.1 253.3,210.7 241.7,208.0" fill="#1a7df2"/>
<polygon class="c" points="198.4,177.8 210.5,180.3 220.0,177.8 208.0,175.4" fill="#0ebfcb"/>
<polygon class="b" points="210.3,212.0 222.3,214.7 232.0,211.4 220.2,208.7" fill="#1a7cf2"/>
<polygon class="b" points="285.7,214.8 297.1,219.4 306.1,217.9 294.8,213.5" fill="#236cf6"/>
<polygon class="c" points="220.0,177.8 232.0,180.4 241.5,177.9 229.6,175.3" fill="#0dc0ca"/>
<polygon class="b" points="317.3,223.2 325.1,226.4 337.1,225.9 326.1,221.0" fill="#4240f2"/>
<polygon class="a" points="189.6,160.2 200.8,162.0 210.4,160.9 199.4,157.1" fill="#01bba3"/>
<polygon class="c" points="241.5,177.9 253.4,180.4 262.7,177.9 250.9,175.4" fill="#0dc1ca"/>
<polygon class="c" points="365.8,178.1 373.2,179.7 384.1,177.6 374.6,175.5" fill="#0dc3c9"/>
<polygon class="c" points="262.7,177.9 274.5,180.5 283.7,178.0 272.1,175.4" fill="#0dc2c9"/>
<polygon class="a" points="166.6,160.3 177.9,162.0 189.6,160.2 178.4,158.5" fill="#01bc9e"/>
<polygon class="c" points="283.7,178.0 295.4,180.6 304.6,178.1 293.0,175.5" fill="#0dc2c9"/>
<polygon class="c" points="304.6,178.1 316.1,180.6 325.2,178.1 313.7,175.5" fill="#0dc3c9"/>
<polygon class="c" points="325.2,178.1 336.6,180.7 345.6,178.1 334.2,175.5" fill="#0dc3c9"/>
<polygon class="b" points="325.1,226.4 325.1,226.4 337.7,226.0 337.1,225.9" fill="#433ff2"/>
<polygon class="c" points="345.6,178.1 356.9,180.7 365.8,178.1 354.5,175.5" fill="#0dc3c9"/>
<polygon class="b" points="264.9,213.3 276.6,216.2 285.7,214.8 274.3,210.0" fill="#1b77f4"/>
<polygon class="b" points="297.1,219.4 308.6,224.9 317.3,223.2 306.1,217.9" fill="#3d51f9"/>
<polygon class="c" points="188.7,180.2 200.9,182.7 210.5,180.3 198.4,177.8" fill="#0ebfcb"/>
<polygon class="b" points="243.8,214.1 255.6,216.7 264.9,213.3 253.3,210.7" fill="#1a7df2"/>
<polygon class="c" points="210.5,180.3 222.6,182.8 232.0,180.4 220.0,177.8" fill="#0ec0ca"/>
<polygon class="b" points="222.3,214.7 234.3,217.4 243.8,214.1 232.0,211.4" fill="#1a7cf2"/>
<polygon class="c" points="232.0,180.4 244.0,182.9 253.4,180.4 241.5,177.9" fill="#0dc1ca"/>
<polygon class="c" points="356.9,180.7 362.2,181.9 373.2,179.7 365.8,178.1" fill="#0dc3c9"/>
<polygon class="c" points="253.4,180.4 265.2,183.0 274.5,180.5 262.7,177.9" fill="#0dc2ca"/>
<polygon class="c" points="274.5,180.5 286.3,183.1 295.4,180.6 283.7,178.0" fill="#0dc2c9"/>
<polygon class="a" points="177.9,162.0 189.2,163.9 200.8,162.0 189.6,160.2" fill="#00bc9b"/>
<polygon class="c" points="295.4,180.6 307.1,183.2 316.1,180.6 304.6,178.1" fill="#0dc3c9"/>
<polygon class="b" points="308.6,224.9 312.6,226.3 325.1,226.4 317.3,223.2" fill="#4241f3"/>
<polygon class="c" points="316.1,180.6 327.7,183.2 336.6,180.7 325.2,178.1" fill="#0dc3c9"/>
<polygon class="c" points="336.6,180.7 348.1,183.2 356.9,180.7 345.6,178.1" fill="#0dc3c9"/>
<polygon class="b" points="276.6,216.2 288.2,221.1 297.1,219.4 285.7,214.8" fill="#266af7"/>
<polygon class="b" points="255.6,216.7 267.4,219.4 276.6,216.2 264.9,213.3" fill="#1a7cf2"/>
<polygon class="c" points="200.9,182.7 213.1,185.2 222.6,182.8 210.5,180.3" fill="#0ec0ca"/>
<polygon class="b" points="234.3,217.4 246.3,220.1 255.6,216.7 243.8,214.1" fill="#1a7cf2"/>
<polygon class="c" points="222.6,182.8 234.7,185.4 244.0,182.9 232.0,180.4" fill="#0dc1ca"/>
<polygon class="c" points="348.1,183.2 351.3,184.0 362.2,181.9 356.9,180.7" fill="#0dc3c9"/>
<polygon class="c" points="244.0,182.9 256.0,185.5 265.2,183.0 253.4,180.4" fill="#0dc2ca"/>
<polygon class="b" points="288.2,221.1 299.8,226.3 308.6,224.9 297.1,219.4" fill="#3f4cf7"/>
<polygon class="c" points="265.2,183.0 277.1,185.6 286.3,183.1 274.5,180.5" fill="#0dc2c9"/>
<polygon class="c" points="286.3,183.1 298.1,185.7 307.1,183.2 295.4,180.6" fill="#0dc2c9"/>
<polygon class="c" points="307.1,183.2 318.8,185.8 327.7,183.2 316.1,180.6" fill="#0dc3c9"/>
<polygon class="c" points="327.7,183.2 339.3,185.8 348.1,183.2 336.6,180.7" fill="#0dc3c9"/>
<polygon class="b" points="299.8,226.3 300.0,226.3 312.6,226.3 308.6,224.9" fill="#4145f4"/>
<polygon class="b" points="267.4,219.4 279.2,223.6 288.2,221.1 276.6,216.2" fill="#2a66f7"/>
<polygon class="c" points="339.3,185.8 340.4,186.1 351.3,184.0 348.1,183.2" fill="#0dc3c9"/>
<polygon class="c" points="213.1,185.2 225.3,187.8 234.7,185.4 222.6,182.8" fill="#0dc1ca"/>
<polygon class="b" points="246.3,220.1 258.3,222.9 267.4,219.4 255.6,216.7" fill="#1a7cf2"/>
<polygon class="c" points="234.7,185.4 246.7,188.0 256.0,185.5 244.0,182.9" fill="#0dc2ca"/>
<polygon class="c" points="256.0,185.5 268.0,188.1 277.1,185.6 265.2,183.0" fill="#0dc2c9"/>
<polygon class="c" points="277.1,185.6 289.0,188.3 298.1,185.7 286.3,183.1" fill="#0dc2c9"/>
<polygon class="c" points="298.1,185.7 309.8,188.4 318.8,185.8 307.1,183.2" fill="#0dc3c9"/>
<polygon class="c" points="318.8,185.8 329.5,188.2 339.3,185.8 327.7,183.2" fill="#0dc3c9"/>
<polygon class="b" points="279.2,223.6 287.5,227.0 299.8,226.3 288.2,221.1" fill="#3f4af6"/>
<polygon class="c" points="329.5,188.2 329.5,188.2 340.4,186.1 339.3,185.8" fill="#0dc3c9"/>
<polygon class="b" points="287.5,227.0 287.5,227.0 300.0,226.3 299.8,226.3" fill="#4049f5"/>
<polygon class="b" points="258.3,222.9 270.3,227.1 279.2,223.6 267.4,219.4" fill="#3060f8"/>
<polygon class="c" points="225.3,187.8 237.5,190.5 246.7,188.0 234.7,185.4" fill="#0dc2ca"/>
<polygon class="c" points="246.7,188.0 258.8,190.7 268.0,188.1 256.0,185.5" fill="#0dc2c9"/>
<polygon class="c" points="268.0,188.1 280.0,190.8 289.0,188.3 277.1,185.6" fill="#0dc2c9"/>
<polygon class="c" points="309.8,188.4 318.6,190.3 329.5,188.2 318.8,185.8" fill="#0dc3c9"/>
<polygon class="c" points="289.0,188.3 300.9,190.9 309.8,188.4 298.1,185.7" fill="#0dc3c9"/>
<polygon class="b" points="270.3,227.1 274.9,228.8 287.5,227.0 279.2,223.6" fill="#3f4cf7"/>
<polygon class="c" points="237.5,190.5 249.7,193.2 258.8,190.7 246.7,188.0" fill="#0dc2c9"/>
<polygon class="c" points="300.9,190.9 307.7,192.4 318.6,190.3 309.8,188.4" fill="#0dc3c9"/>
<polygon class="c" points="258.8,190.7 270.9,193.3 280.0,190.8 268.0,188.1" fill="#0dc2c9"/>
<polygon class="c" points="280.0,190.8 292.0,193.5 300.9,190.9 289.0,188.3" fill="#0dc3c9"/>
<polygon class="c" points="292.0,193.5 296.7,194.5 307.7,192.4 300.9,190.9" fill="#0dc3c9"/>
<polygon class="c" points="249.7,193.2 261.9,195.9 270.9,193.3 258.8,190.7" fill="#0dc2c9"/>
<polygon class="c" points="270.9,193.3 283.0,196.0 292.0,193.5 280.0,190.8" fill="#0dc3c9"/>
<polygon class="c" points="283.0,196.0 285.8,196.6 296.7,194.5 292.0,193.5" fill="#0dc3c9"/>
<polygon class="c" points="261.9,195.9 274.1,198.6 283.0,196.0 270.9,193.3" fill="#0dc3c9"/>
<polygon class="c" points="274.1,198.6 274.9,198.8 285.8,196.6 283.0,196.0" fill="#0dc3c9"/>
</g>
<clipPath id="cc"><polygon points="111.8,191.8 128.0,194.8 145.0,197.9 158.8,204.6 172.0,213.0 186.5,222.0 200.0,230.5 214.0,239.0 226.0,245.5 238.4,251.3 255.0,257.5 273.0,261.9 275.2,262.2 275.2,267.0 221.0,254.7 152.0,239.1 140.0,235.5 134.6,230.5 130.0,224.5 123.6,219.0"/></clipPath>
<polygon points="111.8,191.8 128.0,194.8 145.0,197.9 158.8,204.6 172.0,213.0 186.5,222.0 200.0,230.5 214.0,239.0 226.0,245.5 238.4,251.3 255.0,257.5 273.0,261.9 275.2,262.2 275.2,267.0 221.0,254.7 152.0,239.1 140.0,235.5 134.6,230.5 130.0,224.5 123.6,219.0" fill="#3e23c3" stroke="#000" stroke-opacity="0.8" stroke-width="0.55"/>
<g clip-path="url(#cc)"><line x1="76.00" y1="108.40" x2="134.30" y2="270.00" stroke="#000" stroke-width="0.75" stroke-opacity="0.7"/><line x1="86.40" y1="108.40" x2="144.70" y2="270.00" stroke="#000" stroke-width="0.75" stroke-opacity="0.7"/><line x1="96.80" y1="108.40" x2="155.10" y2="270.00" stroke="#000" stroke-width="0.75" stroke-opacity="0.7"/><line x1="107.20" y1="108.40" x2="165.50" y2="270.00" stroke="#000" stroke-width="0.75" stroke-opacity="0.7"/><line x1="117.60" y1="108.40" x2="175.90" y2="270.00" stroke="#000" stroke-width="0.75" stroke-opacity="0.7"/><line x1="128.00" y1="108.40" x2="186.30" y2="270.00" stroke="#000" stroke-width="0.75" stroke-opacity="0.7"/><line x1="138.40" y1="108.40" x2="196.70" y2="270.00" stroke="#000" stroke-width="0.75" stroke-opacity="0.7"/><line x1="148.80" y1="108.40" x2="207.10" y2="270.00" stroke="#000" stroke-width="0.75" stroke-opacity="0.7"/><line x1="159.20" y1="108.40" x2="217.50" y2="270.00" stroke="#000" stroke-width="0.75" stroke-opacity="0.7"/><line x1="169.60" y1="108.40" x2="227.90" y2="270.00" stroke="#000" stroke-width="0.75" stroke-opacity="0.7"/><line x1="180.00" y1="108.40" x2="238.30" y2="270.00" stroke="#000" stroke-width="0.75" stroke-opacity="0.7"/><line x1="190.40" y1="108.40" x2="248.70" y2="270.00" stroke="#000" stroke-width="0.75" stroke-opacity="0.7"/><line x1="200.80" y1="108.40" x2="259.10" y2="270.00" stroke="#000" stroke-width="0.75" stroke-opacity="0.7"/><line x1="211.20" y1="108.40" x2="269.50" y2="270.00" stroke="#000" stroke-width="0.75" stroke-opacity="0.7"/><line x1="221.60" y1="108.40" x2="279.90" y2="270.00" stroke="#000" stroke-width="0.75" stroke-opacity="0.7"/><line x1="232.00" y1="108.40" x2="290.30" y2="270.00" stroke="#000" stroke-width="0.75" stroke-opacity="0.7"/><line x1="242.40" y1="108.40" x2="300.70" y2="270.00" stroke="#000" stroke-width="0.75" stroke-opacity="0.7"/><line x1="252.80" y1="108.40" x2="311.10" y2="270.00" stroke="#000" stroke-width="0.75" stroke-opacity="0.7"/><line x1="263.20" y1="108.40" x2="321.50" y2="270.00" stroke="#000" stroke-width="0.75" stroke-opacity="0.7"/><line x1="273.60" y1="108.40" x2="331.90" y2="270.00" stroke="#000" stroke-width="0.75" stroke-opacity="0.7"/><line x1="284.00" y1="108.40" x2="342.30" y2="270.00" stroke="#000" stroke-width="0.75" stroke-opacity="0.7"/><line x1="294.40" y1="108.40" x2="352.70" y2="270.00" stroke="#000" stroke-width="0.75" stroke-opacity="0.7"/><line x1="304.80" y1="108.40" x2="363.10" y2="270.00" stroke="#000" stroke-width="0.75" stroke-opacity="0.7"/><line x1="315.20" y1="108.40" x2="373.50" y2="270.00" stroke="#000" stroke-width="0.75" stroke-opacity="0.7"/><line x1="325.60" y1="108.40" x2="383.90" y2="270.00" stroke="#000" stroke-width="0.75" stroke-opacity="0.7"/><line x1="336.00" y1="108.40" x2="394.30" y2="270.00" stroke="#000" stroke-width="0.75" stroke-opacity="0.7"/></g>
<g><line x1="42.30" y1="214.20" x2="42.30" y2="71.96" stroke="#454545" stroke-width="0.90" /><line x1="42.30" y1="214.20" x2="274.90" y2="266.80" stroke="#454545" stroke-width="0.90" /><line x1="274.90" y1="266.80" x2="526.00" y2="218.30" stroke="#454545" stroke-width="0.90" /><line x1="42.30" y1="214.20" x2="35.80" y2="213.30" stroke="#454545" stroke-width="0.80" /><line x1="42.30" y1="196.42" x2="35.80" y2="195.52" stroke="#454545" stroke-width="0.80" /><line x1="42.30" y1="178.64" x2="35.80" y2="177.74" stroke="#454545" stroke-width="0.80" /><line x1="42.30" y1="160.86" x2="35.80" y2="159.96" stroke="#454545" stroke-width="0.80" /><line x1="42.30" y1="143.08" x2="35.80" y2="142.18" stroke="#454545" stroke-width="0.80" /><line x1="42.30" y1="125.30" x2="35.80" y2="124.40" stroke="#454545" stroke-width="0.80" /><line x1="42.30" y1="107.52" x2="35.80" y2="106.62" stroke="#454545" stroke-width="0.80" /><line x1="42.30" y1="89.74" x2="35.80" y2="88.84" stroke="#454545" stroke-width="0.80" /><line x1="42.30" y1="71.96" x2="35.80" y2="71.06" stroke="#454545" stroke-width="0.80" /><line x1="42.30" y1="214.20" x2="36.90" y2="215.50" stroke="#454545" stroke-width="0.80" /><line x1="100.45" y1="227.35" x2="95.05" y2="228.65" stroke="#454545" stroke-width="0.80" /><line x1="158.60" y1="240.50" x2="153.20" y2="241.80" stroke="#454545" stroke-width="0.80" /><line x1="216.75" y1="253.65" x2="211.35" y2="254.95" stroke="#454545" stroke-width="0.80" /><line x1="274.90" y1="266.80" x2="269.50" y2="268.10" stroke="#454545" stroke-width="0.80" /><line x1="274.90" y1="266.80" x2="280.50" y2="268.50" stroke="#454545" stroke-width="0.80" /><line x1="300.01" y1="261.95" x2="305.61" y2="263.65" stroke="#454545" stroke-width="0.80" /><line x1="325.12" y1="257.10" x2="330.72" y2="258.80" stroke="#454545" stroke-width="0.80" /><line x1="350.23" y1="252.25" x2="355.83" y2="253.95" stroke="#454545" stroke-width="0.80" /><line x1="375.34" y1="247.40" x2="380.94" y2="249.10" stroke="#454545" stroke-width="0.80" /><line x1="400.45" y1="242.55" x2="406.05" y2="244.25" stroke="#454545" stroke-width="0.80" /><line x1="425.56" y1="237.70" x2="431.16" y2="239.40" stroke="#454545" stroke-width="0.80" /><line x1="450.67" y1="232.85" x2="456.27" y2="234.55" stroke="#454545" stroke-width="0.80" /><line x1="475.78" y1="228.00" x2="481.38" y2="229.70" stroke="#454545" stroke-width="0.80" /><line x1="500.89" y1="223.15" x2="506.49" y2="224.85" stroke="#454545" stroke-width="0.80" /><line x1="526.00" y1="218.30" x2="531.60" y2="220.00" stroke="#454545" stroke-width="0.80" /></g>
<g font-family="'Liberation Sans', sans-serif"><text x="32.3" y="216.1" font-size="7.50" fill="#404040" text-anchor="end" >0</text><text x="32.3" y="198.3" font-size="7.50" fill="#404040" text-anchor="end" >10</text><text x="32.3" y="180.5" font-size="7.50" fill="#404040" text-anchor="end" >20</text><text x="32.3" y="162.8" font-size="7.50" fill="#404040" text-anchor="end" >30</text><text x="32.3" y="145.0" font-size="7.50" fill="#404040" text-anchor="end" >40</text><text x="32.3" y="127.2" font-size="7.50" fill="#404040" text-anchor="end" >50</text><text x="32.3" y="109.4" font-size="7.50" fill="#404040" text-anchor="end" >60</text><text x="32.3" y="91.6" font-size="7.50" fill="#404040" text-anchor="end" >70</text><text x="32.3" y="73.9" font-size="7.50" fill="#404040" text-anchor="end" >80</text><text x="32.0" y="224.3" font-size="7.50" fill="#404040" text-anchor="end" >4</text><text x="90.1" y="237.4" font-size="7.50" fill="#404040" text-anchor="end" >3.5</text><text x="148.3" y="250.6" font-size="7.50" fill="#404040" text-anchor="end" >3</text><text x="206.4" y="263.8" font-size="7.50" fill="#404040" text-anchor="end" >2.5</text><text x="264.6" y="276.9" font-size="7.50" fill="#404040" text-anchor="end" >2</text><text x="283.6" y="277.6" font-size="7.50" fill="#404040" text-anchor="start" >1</text><text x="308.7" y="272.8" font-size="7.50" fill="#404040" text-anchor="start" >0.95</text><text x="333.8" y="267.9" font-size="7.50" fill="#404040" text-anchor="start" >0.9</text><text x="358.9" y="263.1" font-size="7.50" fill="#404040" text-anchor="start" >0.85</text><text x="384.0" y="258.2" font-size="7.50" fill="#404040" text-anchor="start" >0.8</text><text x="409.1" y="253.4" font-size="7.50" fill="#404040" text-anchor="start" >0.75</text><text x="434.3" y="248.5" font-size="7.50" fill="#404040" text-anchor="start" >0.7</text><text x="459.4" y="243.7" font-size="7.50" fill="#404040" text-anchor="start" >0.65</text><text x="484.5" y="238.8" font-size="7.50" fill="#404040" text-anchor="start" >0.6</text><text x="509.6" y="234.0" font-size="7.50" fill="#404040" text-anchor="start" >0.55</text><text x="534.7" y="229.1" font-size="7.50" fill="#404040" text-anchor="start" >0.5</text></g>
<g font-family="'Liberation Sans', sans-serif" stroke="#111" stroke-width="0.18"><text x="263.6" y="16.7" font-size="10.3" font-weight="bold" fill="#111" textLength="36" lengthAdjust="spacingAndGlyphs" xml:space="preserve">pH  4.5</text><text x="361.3" y="47.3" font-size="10.6" fill="#111" textLength="43.6" lengthAdjust="spacingAndGlyphs">t =75 min</text><text x="438.7" y="111.7" font-size="10.6" fill="#111" textLength="49.5" lengthAdjust="spacingAndGlyphs">t =120 min</text><text x="55.6" y="208" font-size="10.6" fill="#111" textLength="44.2" lengthAdjust="spacingAndGlyphs">t =30 min</text><text x="103" y="284.9" font-size="10.5" fill="#111" textLength="104" lengthAdjust="spacingAndGlyphs">NUMBER OF STAGES</text><text x="369.6" y="282.4" font-size="10.5" fill="#111" textLength="48.6" lengthAdjust="spacingAndGlyphs">RATIO L/L</text><text transform="translate(12.3,166.4) rotate(-90)" font-size="11.4" fill="#111" textLength="48.6" lengthAdjust="spacingAndGlyphs">GLUCOSE</text></g>
<g stroke="#111" stroke-width="0.9" fill="none" stroke-linecap="round" stroke-linejoin="round">
<path d="M351.6 48.1 L339 55.1 M344.6 50.2 L339 55.1 L345.8 55.0"/>
<path d="M466 118.2 L466 130.6 M463.2 125.6 L466 130.6 L468.8 125.6"/>
</g>
</svg>
</body></html>
